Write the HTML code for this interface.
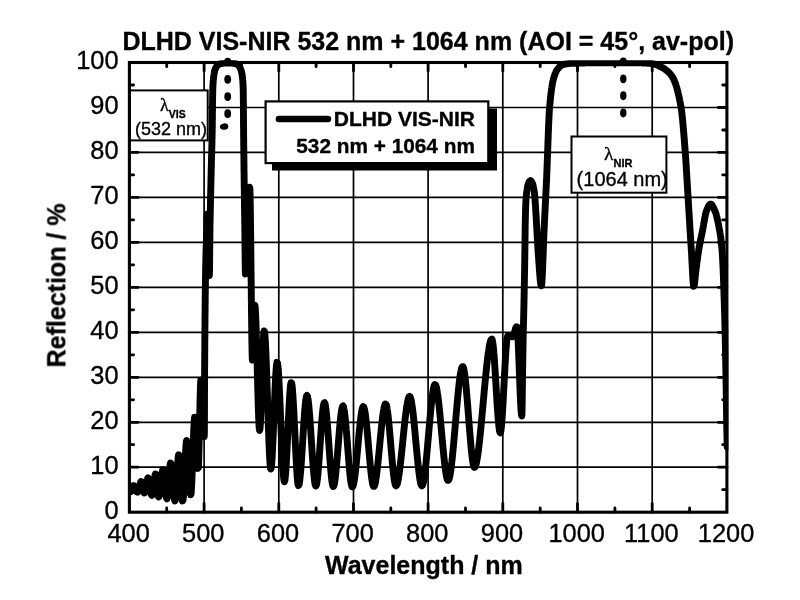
<!DOCTYPE html><html><head><meta charset="utf-8"><title>DLHD VIS-NIR</title>
<style>html,body{margin:0;padding:0;background:#fff;}body{width:800px;height:600px;overflow:hidden;font-family:"Liberation Sans",sans-serif;}svg{display:block;filter:blur(0.3px)}text{font-family:"Liberation Sans",sans-serif;fill:#000;stroke:#000;stroke-width:0.35px;stroke-linejoin:round}.b{font-weight:bold}.ser{font-family:"Liberation Serif",serif}</style></head><body>
<svg width="800" height="600" viewBox="0 0 800 600">
<rect width="800" height="600" fill="#fff"/>
<g stroke="#000" stroke-width="1.7" fill="none">
<line x1="204.1" y1="62.5" x2="204.1" y2="512.2"/>
<line x1="278.8" y1="62.5" x2="278.8" y2="512.2"/>
<line x1="353.5" y1="62.5" x2="353.5" y2="512.2"/>
<line x1="428.1" y1="62.5" x2="428.1" y2="512.2"/>
<line x1="502.8" y1="62.5" x2="502.8" y2="512.2"/>
<line x1="577.5" y1="62.5" x2="577.5" y2="512.2"/>
<line x1="652.2" y1="62.5" x2="652.2" y2="512.2"/>
<line x1="129.4" y1="467.2" x2="726.9" y2="467.2"/>
<line x1="129.4" y1="422.3" x2="726.9" y2="422.3"/>
<line x1="129.4" y1="377.3" x2="726.9" y2="377.3"/>
<line x1="129.4" y1="332.3" x2="726.9" y2="332.3"/>
<line x1="129.4" y1="287.4" x2="726.9" y2="287.4"/>
<line x1="129.4" y1="242.4" x2="726.9" y2="242.4"/>
<line x1="129.4" y1="197.4" x2="726.9" y2="197.4"/>
<line x1="129.4" y1="152.4" x2="726.9" y2="152.4"/>
<line x1="129.4" y1="107.5" x2="726.9" y2="107.5"/>
</g>
<g stroke="#000" stroke-width="2.8" stroke-linecap="round" fill="none">
<line x1="204.1" y1="62.5" x2="204.1" y2="71.1"/>
<line x1="204.1" y1="512.2" x2="204.1" y2="503.6"/>
<line x1="278.8" y1="62.5" x2="278.8" y2="71.1"/>
<line x1="278.8" y1="512.2" x2="278.8" y2="503.6"/>
<line x1="353.5" y1="62.5" x2="353.5" y2="71.1"/>
<line x1="353.5" y1="512.2" x2="353.5" y2="503.6"/>
<line x1="428.1" y1="62.5" x2="428.1" y2="71.1"/>
<line x1="428.1" y1="512.2" x2="428.1" y2="503.6"/>
<line x1="502.8" y1="62.5" x2="502.8" y2="71.1"/>
<line x1="502.8" y1="512.2" x2="502.8" y2="503.6"/>
<line x1="577.5" y1="62.5" x2="577.5" y2="71.1"/>
<line x1="577.5" y1="512.2" x2="577.5" y2="503.6"/>
<line x1="652.2" y1="62.5" x2="652.2" y2="71.1"/>
<line x1="652.2" y1="512.2" x2="652.2" y2="503.6"/>
<line x1="166.7" y1="62.5" x2="166.7" y2="66.7"/>
<line x1="166.7" y1="512.2" x2="166.7" y2="508.00000000000006"/>
<line x1="241.4" y1="62.5" x2="241.4" y2="66.7"/>
<line x1="241.4" y1="512.2" x2="241.4" y2="508.00000000000006"/>
<line x1="316.1" y1="62.5" x2="316.1" y2="66.7"/>
<line x1="316.1" y1="512.2" x2="316.1" y2="508.00000000000006"/>
<line x1="390.8" y1="62.5" x2="390.8" y2="66.7"/>
<line x1="390.8" y1="512.2" x2="390.8" y2="508.00000000000006"/>
<line x1="465.5" y1="62.5" x2="465.5" y2="66.7"/>
<line x1="465.5" y1="512.2" x2="465.5" y2="508.00000000000006"/>
<line x1="540.2" y1="62.5" x2="540.2" y2="66.7"/>
<line x1="540.2" y1="512.2" x2="540.2" y2="508.00000000000006"/>
<line x1="614.9" y1="62.5" x2="614.9" y2="66.7"/>
<line x1="614.9" y1="512.2" x2="614.9" y2="508.00000000000006"/>
<line x1="689.6" y1="62.5" x2="689.6" y2="66.7"/>
<line x1="689.6" y1="512.2" x2="689.6" y2="508.00000000000006"/>
<line x1="129.4" y1="467.2" x2="138.0" y2="467.2"/>
<line x1="726.9" y1="467.2" x2="718.3" y2="467.2"/>
<line x1="129.4" y1="422.3" x2="138.0" y2="422.3"/>
<line x1="726.9" y1="422.3" x2="718.3" y2="422.3"/>
<line x1="129.4" y1="377.3" x2="138.0" y2="377.3"/>
<line x1="726.9" y1="377.3" x2="718.3" y2="377.3"/>
<line x1="129.4" y1="332.3" x2="138.0" y2="332.3"/>
<line x1="726.9" y1="332.3" x2="718.3" y2="332.3"/>
<line x1="129.4" y1="287.4" x2="138.0" y2="287.4"/>
<line x1="726.9" y1="287.4" x2="718.3" y2="287.4"/>
<line x1="129.4" y1="242.4" x2="138.0" y2="242.4"/>
<line x1="726.9" y1="242.4" x2="718.3" y2="242.4"/>
<line x1="129.4" y1="197.4" x2="138.0" y2="197.4"/>
<line x1="726.9" y1="197.4" x2="718.3" y2="197.4"/>
<line x1="129.4" y1="152.4" x2="138.0" y2="152.4"/>
<line x1="726.9" y1="152.4" x2="718.3" y2="152.4"/>
<line x1="129.4" y1="107.5" x2="138.0" y2="107.5"/>
<line x1="726.9" y1="107.5" x2="718.3" y2="107.5"/>
<line x1="129.4" y1="489.7" x2="133.6" y2="489.7"/>
<line x1="726.9" y1="489.7" x2="722.6999999999999" y2="489.7"/>
<line x1="129.4" y1="444.7" x2="133.6" y2="444.7"/>
<line x1="726.9" y1="444.7" x2="722.6999999999999" y2="444.7"/>
<line x1="129.4" y1="399.8" x2="133.6" y2="399.8"/>
<line x1="726.9" y1="399.8" x2="722.6999999999999" y2="399.8"/>
<line x1="129.4" y1="354.8" x2="133.6" y2="354.8"/>
<line x1="726.9" y1="354.8" x2="722.6999999999999" y2="354.8"/>
<line x1="129.4" y1="309.8" x2="133.6" y2="309.8"/>
<line x1="726.9" y1="309.8" x2="722.6999999999999" y2="309.8"/>
<line x1="129.4" y1="264.9" x2="133.6" y2="264.9"/>
<line x1="726.9" y1="264.9" x2="722.6999999999999" y2="264.9"/>
<line x1="129.4" y1="219.9" x2="133.6" y2="219.9"/>
<line x1="726.9" y1="219.9" x2="722.6999999999999" y2="219.9"/>
<line x1="129.4" y1="174.9" x2="133.6" y2="174.9"/>
<line x1="726.9" y1="174.9" x2="722.6999999999999" y2="174.9"/>
<line x1="129.4" y1="130.0" x2="133.6" y2="130.0"/>
<line x1="726.9" y1="130.0" x2="722.6999999999999" y2="130.0"/>
<line x1="129.4" y1="85.0" x2="133.6" y2="85.0"/>
<line x1="726.9" y1="85.0" x2="722.6999999999999" y2="85.0"/>
</g>
<rect x="129.4" y="90.4" width="78.3" height="50" fill="#fff" stroke="#000" stroke-width="2"/>
<rect x="571.5" y="136.5" width="94.9" height="56.2" fill="#fff" stroke="#000" stroke-width="2"/>
<clipPath id="cp"><rect x="128" y="60.3" width="600.4" height="453.6"/></clipPath>
<path clip-path="url(#cp)" d="M129.4 489.5 L129.7 490.2 L129.9 490.8 L130.2 491.4 L130.8 491.7 L131.2 491.2 L131.5 490.6 L131.7 490.0 L132.0 489.3 L132.2 488.7 L132.4 488.1 L132.6 487.5 L132.8 486.9 L133.1 486.3 L133.4 485.7 L134.0 485.6 L134.4 486.0 L134.7 486.6 L135.0 487.1 L135.2 487.8 L135.5 488.4 L135.7 489.1 L136.0 489.8 L136.2 490.4 L136.5 491.0 L136.8 491.6 L137.1 492.1 L137.7 492.2 L138.1 491.7 L138.3 491.0 L138.5 490.4 L138.7 489.7 L138.9 489.1 L139.0 488.5 L139.2 487.8 L139.3 487.2 L139.5 486.5 L139.6 485.9 L139.8 485.2 L139.9 484.6 L140.1 484.0 L140.3 483.3 L140.5 482.7 L140.7 482.0 L141.1 481.5 L141.6 481.8 L141.9 482.5 L142.1 483.3 L142.2 484.0 L142.4 484.7 L142.5 485.5 L142.7 486.3 L142.8 487.2 L143.0 488.0 L143.1 488.8 L143.3 489.6 L143.4 490.4 L143.6 491.1 L143.7 491.7 L143.9 492.4 L144.2 493.0 L144.8 492.8 L145.0 492.1 L145.2 491.3 L145.4 490.7 L145.5 489.9 L145.7 489.1 L145.8 488.2 L145.9 487.6 L146.0 487.0 L146.1 486.4 L146.2 485.8 L146.3 485.1 L146.4 484.5 L146.5 483.9 L146.6 483.3 L146.7 482.7 L146.9 481.8 L147.0 481.0 L147.2 480.2 L147.3 479.6 L147.5 479.0 L147.7 478.3 L148.0 477.8 L148.5 478.1 L148.7 478.7 L148.9 479.5 L149.0 480.2 L149.2 481.0 L149.3 481.9 L149.4 482.5 L149.5 483.1 L149.6 483.8 L149.7 484.5 L149.8 485.2 L149.9 485.9 L150.0 486.6 L150.1 487.2 L150.2 487.9 L150.3 488.6 L150.4 489.3 L150.5 490.0 L150.6 490.6 L150.7 491.2 L150.9 492.1 L151.0 492.9 L151.2 493.6 L151.3 494.2 L151.5 494.9 L151.9 495.4 L152.3 494.9 L152.5 494.1 L152.6 493.4 L152.8 492.5 L152.9 491.8 L153.0 491.1 L153.1 490.4 L153.2 489.6 L153.3 488.8 L153.4 488.0 L153.5 487.2 L153.6 486.3 L153.7 485.4 L153.8 484.5 L153.9 483.7 L154.0 482.8 L154.1 481.9 L154.2 481.1 L154.3 480.3 L154.4 479.5 L154.5 478.7 L154.6 478.0 L154.7 477.3 L154.8 476.6 L154.9 476.0 L155.0 475.2 L155.2 474.6 L155.4 474.0 L155.9 474.3 L156.1 475.0 L156.2 475.6 L156.3 476.3 L156.4 477.0 L156.5 477.9 L156.6 478.8 L156.7 479.8 L156.8 480.8 L156.9 481.8 L157.0 482.9 L157.1 484.0 L157.2 485.1 L157.3 486.2 L157.4 487.3 L157.5 488.4 L157.6 489.5 L157.7 490.5 L157.8 491.5 L157.9 492.5 L158.0 493.3 L158.1 494.1 L158.2 494.9 L158.3 495.5 L158.4 496.3 L158.6 496.9 L159.1 496.6 L159.3 495.9 L159.5 495.2 L159.6 494.3 L159.7 493.7 L159.8 493.0 L159.9 492.3 L160.0 491.5 L160.1 490.7 L160.2 489.9 L160.3 489.0 L160.4 488.1 L160.5 487.2 L160.6 486.3 L160.7 485.3 L160.8 484.4 L160.9 483.4 L161.0 482.4 L161.1 481.5 L161.2 480.5 L161.3 479.6 L161.4 478.7 L161.5 477.7 L161.6 476.9 L161.7 476.0 L161.8 475.2 L161.9 474.4 L162.0 473.6 L162.1 472.9 L162.2 472.3 L162.3 471.7 L162.5 470.9 L162.6 470.2 L162.8 469.6 L163.4 469.7 L163.6 470.3 L163.7 471.2 L163.8 471.8 L163.9 472.6 L164.0 473.4 L164.1 474.3 L164.2 475.2 L164.3 476.2 L164.4 477.2 L164.5 478.3 L164.6 479.4 L164.7 480.5 L164.8 481.7 L164.9 482.8 L165.0 484.0 L165.1 485.2 L165.2 486.3 L165.3 487.5 L165.4 488.6 L165.5 489.7 L165.6 490.8 L165.7 491.8 L165.8 492.8 L165.9 493.7 L166.0 494.6 L166.1 495.4 L166.2 496.2 L166.3 496.8 L166.5 497.7 L166.6 498.3 L166.9 498.8 L167.2 498.1 L167.4 497.3 L167.5 496.7 L167.6 495.9 L167.7 495.0 L167.8 494.0 L167.9 492.9 L168.0 491.8 L168.0 491.2 L168.1 490.6 L168.1 489.9 L168.2 489.3 L168.2 488.6 L168.3 487.9 L168.3 487.3 L168.4 486.6 L168.4 485.9 L168.5 485.2 L168.5 484.5 L168.6 483.7 L168.6 483.0 L168.7 482.3 L168.7 481.6 L168.8 480.8 L168.8 480.1 L168.9 479.4 L168.9 478.7 L169.0 478.0 L169.0 477.2 L169.1 476.5 L169.1 475.8 L169.2 475.1 L169.2 474.4 L169.3 473.8 L169.3 473.1 L169.4 472.4 L169.4 471.8 L169.5 471.1 L169.5 470.5 L169.6 469.9 L169.7 468.8 L169.8 467.7 L169.9 466.7 L170.0 465.8 L170.1 465.0 L170.2 464.4 L170.3 463.6 L170.5 463.0 L171.0 463.6 L171.1 464.3 L171.3 465.2 L171.4 465.9 L171.5 466.6 L171.6 467.5 L171.7 468.4 L171.8 469.4 L171.9 470.4 L172.0 471.5 L172.1 472.6 L172.2 473.8 L172.2 474.4 L172.3 475.0 L172.3 475.6 L172.4 476.2 L172.4 476.8 L172.5 477.5 L172.5 478.1 L172.6 478.8 L172.6 479.4 L172.7 480.0 L172.7 480.7 L172.8 481.3 L172.8 482.0 L172.9 482.7 L172.9 483.3 L173.0 484.0 L173.0 484.6 L173.1 485.2 L173.1 485.9 L173.2 486.5 L173.2 487.2 L173.3 487.8 L173.3 488.4 L173.4 489.0 L173.4 489.6 L173.5 490.2 L173.6 491.4 L173.7 492.5 L173.8 493.6 L173.9 494.6 L174.0 495.6 L174.1 496.5 L174.2 497.4 L174.3 498.1 L174.4 498.8 L174.5 499.5 L174.6 500.2 L174.8 500.9 L175.3 500.2 L175.4 499.6 L175.5 498.8 L175.6 497.9 L175.7 496.8 L175.8 495.6 L175.9 495.0 L175.9 494.3 L176.0 493.6 L176.0 492.9 L176.1 492.1 L176.1 491.4 L176.2 490.6 L176.2 489.8 L176.3 489.0 L176.3 488.1 L176.4 487.3 L176.4 486.4 L176.5 485.5 L176.5 484.6 L176.6 483.7 L176.6 482.8 L176.7 481.9 L176.7 481.0 L176.8 480.0 L176.8 479.1 L176.9 478.2 L176.9 477.2 L177.0 476.3 L177.0 475.4 L177.1 474.4 L177.1 473.5 L177.2 472.6 L177.2 471.7 L177.3 470.8 L177.3 469.9 L177.4 469.0 L177.4 468.1 L177.5 467.3 L177.5 466.4 L177.6 465.6 L177.6 464.8 L177.7 464.0 L177.7 463.3 L177.8 462.5 L177.8 461.8 L177.9 461.1 L177.9 460.4 L178.0 459.8 L178.0 459.2 L178.1 458.0 L178.2 457.0 L178.3 456.2 L178.4 455.4 L178.6 454.7 L179.1 455.1 L179.2 456.0 L179.3 456.8 L179.4 457.7 L179.5 458.7 L179.6 459.9 L179.7 460.5 L179.7 461.1 L179.8 461.8 L179.8 462.5 L179.9 463.2 L179.9 463.9 L180.0 464.7 L180.0 465.4 L180.1 466.2 L180.1 467.0 L180.2 467.8 L180.2 468.6 L180.3 469.5 L180.3 470.3 L180.4 471.2 L180.4 472.0 L180.5 472.9 L180.5 473.8 L180.6 474.6 L180.6 475.5 L180.7 476.4 L180.7 477.3 L180.8 478.2 L180.8 479.1 L180.9 480.0 L180.9 480.9 L181.0 481.7 L181.0 482.6 L181.1 483.5 L181.1 484.3 L181.2 485.2 L181.2 486.0 L181.3 486.9 L181.3 487.7 L181.4 488.5 L181.4 489.3 L181.5 490.1 L181.5 490.8 L181.6 491.6 L181.6 492.3 L181.7 493.0 L181.7 493.7 L181.8 494.4 L181.8 495.0 L181.9 495.6 L182.0 496.8 L182.1 497.8 L182.2 498.7 L182.3 499.5 L182.4 500.2 L182.5 500.9 L183.0 500.2 L183.1 499.5 L183.2 498.6 L183.3 497.5 L183.4 496.9 L183.4 496.2 L183.5 495.6 L183.5 494.9 L183.6 494.1 L183.6 493.3 L183.7 492.5 L183.7 491.7 L183.8 490.8 L183.8 489.9 L183.9 489.0 L183.9 488.0 L184.0 487.1 L184.0 486.1 L184.1 485.0 L184.1 484.0 L184.2 483.0 L184.2 481.9 L184.3 480.8 L184.3 479.7 L184.4 478.6 L184.4 477.5 L184.5 476.4 L184.5 475.3 L184.6 474.1 L184.6 473.0 L184.7 471.8 L184.7 470.7 L184.8 469.6 L184.8 468.4 L184.9 467.3 L184.9 466.1 L185.0 465.0 L185.0 463.9 L185.1 462.8 L185.1 461.7 L185.2 460.6 L185.2 459.5 L185.3 458.4 L185.3 457.4 L185.4 456.4 L185.4 455.3 L185.5 454.3 L185.5 453.4 L185.6 452.4 L185.6 451.5 L185.7 450.6 L185.7 449.7 L185.8 448.9 L185.8 448.1 L185.9 447.3 L185.9 446.5 L186.0 445.8 L186.0 445.2 L186.1 444.5 L186.1 443.9 L186.2 442.8 L186.3 441.9 L186.4 441.2 L186.6 440.5 L187.0 441.1 L187.1 441.7 L187.2 442.6 L187.3 443.5 L187.4 444.6 L187.5 445.3 L187.5 445.9 L187.6 446.6 L187.6 447.3 L187.7 448.0 L187.7 448.8 L187.8 449.5 L187.8 450.4 L187.9 451.2 L187.9 452.0 L188.0 452.9 L188.0 453.8 L188.1 454.7 L188.1 455.6 L188.2 456.6 L188.2 457.5 L188.3 458.5 L188.3 459.5 L188.4 460.5 L188.4 461.5 L188.5 462.5 L188.5 463.5 L188.6 464.5 L188.6 465.5 L188.7 466.6 L188.7 467.6 L188.8 468.6 L188.8 469.7 L188.9 470.7 L188.9 471.7 L189.0 472.7 L189.0 473.7 L189.1 474.7 L189.1 475.7 L189.2 476.7 L189.2 477.7 L189.3 478.6 L189.3 479.6 L189.4 480.5 L189.4 481.4 L189.5 482.3 L189.5 483.2 L189.6 484.0 L189.6 484.8 L189.7 485.7 L189.7 486.4 L189.8 487.2 L189.8 487.9 L189.9 488.6 L189.9 489.3 L190.0 489.9 L190.0 490.6 L190.1 491.7 L190.2 492.6 L190.3 493.5 L190.4 494.1 L190.6 494.8 L191.0 494.2 L191.1 493.4 L191.2 492.4 L191.3 491.2 L191.3 490.5 L191.4 489.7 L191.4 488.9 L191.5 488.1 L191.5 487.2 L191.6 486.3 L191.6 485.3 L191.7 484.3 L191.7 483.3 L191.8 482.2 L191.8 481.1 L191.9 480.0 L191.9 478.8 L192.0 477.6 L192.0 476.4 L192.1 475.1 L192.1 473.8 L192.2 472.5 L192.2 471.2 L192.3 469.9 L192.3 468.5 L192.4 467.2 L192.4 465.8 L192.5 464.4 L192.5 463.0 L192.6 461.6 L192.6 460.1 L192.7 458.7 L192.7 457.3 L192.8 455.8 L192.8 454.4 L192.9 453.0 L192.9 451.6 L193.0 450.1 L193.0 448.7 L193.1 447.3 L193.1 445.9 L193.2 444.5 L193.2 443.2 L193.3 441.8 L193.3 440.5 L193.4 439.2 L193.4 437.9 L193.5 436.6 L193.5 435.3 L193.6 434.1 L193.6 432.9 L193.7 431.7 L193.7 430.6 L193.8 429.5 L193.8 428.4 L193.9 427.4 L193.9 426.4 L194.0 425.4 L194.0 424.5 L194.1 423.6 L194.1 422.8 L194.2 422.0 L194.2 421.2 L194.3 420.5 L194.3 419.9 L194.4 418.8 L194.5 417.9 L194.6 417.2 L195.1 417.9 L195.2 418.8 L195.3 419.9 L195.4 420.6 L195.4 421.3 L195.5 422.0 L195.5 422.8 L195.6 423.6 L195.6 424.4 L195.7 425.3 L195.7 426.2 L195.8 427.2 L195.8 428.2 L195.9 429.2 L195.9 430.3 L196.0 431.3 L196.0 432.4 L196.1 433.5 L196.1 434.7 L196.2 435.8 L196.2 437.0 L196.3 438.1 L196.3 439.3 L196.4 440.5 L196.4 441.7 L196.5 442.9 L196.5 444.0 L196.6 445.2 L196.6 446.4 L196.7 447.6 L196.7 448.7 L196.8 449.9 L196.8 451.0 L196.9 452.2 L196.9 453.3 L197.0 454.4 L197.0 455.4 L197.1 456.5 L197.1 457.5 L197.2 458.5 L197.2 459.5 L197.3 460.4 L197.3 461.3 L197.4 462.1 L197.4 462.9 L197.5 463.7 L197.5 464.4 L197.6 465.1 L197.6 465.8 L197.7 466.9 L197.8 467.8 L197.9 468.4 L198.3 467.7 L198.4 467.0 L198.4 466.2 L198.5 465.2 L198.5 464.1 L198.6 462.8 L198.6 461.5 L198.7 460.0 L198.7 458.5 L198.8 456.8 L198.8 455.1 L198.9 453.3 L198.9 451.4 L199.0 449.4 L199.0 447.3 L199.1 445.2 L199.1 443.1 L199.2 440.8 L199.2 438.6 L199.3 436.3 L199.3 434.0 L199.4 431.6 L199.4 429.3 L199.5 426.9 L199.5 424.5 L199.6 422.1 L199.6 419.7 L199.7 417.4 L199.7 415.0 L199.8 412.7 L199.8 410.4 L199.9 408.2 L199.9 405.9 L200.0 403.8 L200.0 401.7 L200.1 399.6 L200.1 397.6 L200.2 395.7 L200.2 393.9 L200.3 392.2 L200.3 390.5 L200.4 389.0 L200.4 387.5 L200.5 386.2 L200.5 384.9 L200.6 383.8 L200.6 382.8 L200.7 382.0 L200.7 381.3 L200.8 380.3 L201.2 380.9 L201.3 381.7 L201.4 382.7 L201.4 383.3 L201.5 384.0 L201.5 384.7 L201.6 385.4 L201.6 386.2 L201.7 387.1 L201.7 387.9 L201.8 388.9 L201.8 389.8 L201.9 390.8 L201.9 391.8 L202.0 392.9 L202.0 394.0 L202.1 395.1 L202.1 396.2 L202.2 397.4 L202.2 398.5 L202.3 399.7 L202.3 400.9 L202.4 402.1 L202.4 403.4 L202.5 404.6 L202.5 405.9 L202.6 407.1 L202.6 408.4 L202.7 409.6 L202.7 410.8 L202.8 412.1 L202.8 413.3 L202.9 414.6 L202.9 415.8 L203.0 417.0 L203.0 418.2 L203.1 419.3 L203.1 420.5 L203.2 421.6 L203.2 422.7 L203.3 423.8 L203.3 424.9 L203.4 425.9 L203.4 426.9 L203.5 427.8 L203.5 428.8 L203.6 429.6 L203.6 430.5 L203.7 431.3 L203.7 432.0 L203.8 432.7 L203.8 433.4 L203.9 434.0 L204.0 435.0 L204.1 435.8 L204.2 436.6 L204.4 432.8 L204.4 422.8 L204.5 409.1 L204.5 394.1 L204.6 380.2 L204.6 370.0 L204.7 362.5 L204.7 355.3 L204.8 348.3 L204.8 341.6 L204.9 335.2 L204.9 329.0 L205.0 323.0 L205.0 317.4 L205.1 312.0 L205.1 306.8 L205.2 301.9 L205.2 297.3 L205.3 292.9 L205.3 288.8 L205.4 285.0 L205.4 281.4 L205.5 278.1 L205.5 275.0 L205.6 272.2 L205.6 269.5 L205.7 266.9 L205.7 264.5 L205.8 262.3 L205.8 260.1 L205.9 258.0 L205.9 256.1 L206.0 254.2 L206.0 252.3 L206.1 250.6 L206.1 248.8 L206.2 247.1 L206.2 245.4 L206.3 243.7 L206.3 242.0 L206.4 240.3 L206.4 238.6 L206.5 236.8 L206.5 235.0 L206.6 233.0 L206.6 230.9 L206.7 228.6 L206.7 226.3 L206.8 223.9 L206.8 221.7 L206.9 219.6 L206.9 217.8 L207.0 216.2 L207.0 215.0 L207.1 214.3 L207.3 215.4 L207.4 216.2 L207.4 217.1 L207.5 218.2 L207.5 219.4 L207.6 220.7 L207.6 222.1 L207.7 223.7 L207.7 225.3 L207.8 227.0 L207.8 228.8 L207.9 230.6 L207.9 232.6 L208.0 234.5 L208.0 236.6 L208.1 238.6 L208.1 240.7 L208.2 242.8 L208.2 244.9 L208.3 247.0 L208.3 249.1 L208.4 251.2 L208.4 253.2 L208.5 255.3 L208.5 257.2 L208.6 259.2 L208.6 261.0 L208.7 262.8 L208.7 264.5 L208.8 266.1 L208.8 267.7 L208.9 269.1 L208.9 270.4 L209.0 271.6 L209.0 272.7 L209.1 273.6 L209.1 274.4 L209.2 275.0 L209.3 275.7 L209.4 273.7 L209.5 271.3 L209.5 268.1 L209.6 264.4 L209.6 260.1 L209.7 255.5 L209.7 250.7 L209.8 245.9 L209.8 241.1 L209.9 236.4 L209.9 232.1 L210.0 228.3 L210.0 225.0 L210.1 222.1 L210.1 219.4 L210.2 216.8 L210.2 214.2 L210.3 211.8 L210.3 209.4 L210.4 207.0 L210.4 204.7 L210.5 202.3 L210.5 200.0 L210.6 197.7 L210.6 195.3 L210.7 193.0 L210.7 190.8 L210.8 188.5 L210.8 186.3 L210.9 184.0 L210.9 181.8 L211.0 179.7 L211.0 177.5 L211.1 175.4 L211.1 173.3 L211.2 171.2 L211.2 169.1 L211.3 167.0 L211.3 165.0 L211.4 163.0 L211.4 161.1 L211.5 159.3 L211.5 157.6 L211.6 155.9 L211.6 154.2 L211.7 152.5 L211.7 150.8 L211.8 149.1 L211.8 147.3 L211.9 145.5 L211.9 143.6 L212.0 141.6 L212.0 139.6 L212.1 137.3 L212.1 135.0 L212.2 132.3 L212.2 129.1 L212.3 125.6 L212.3 121.7 L212.4 117.6 L212.4 113.5 L212.5 109.3 L212.5 105.2 L212.6 101.3 L212.6 97.7 L212.7 94.5 L212.7 91.7 L212.8 89.5 L212.8 88.0 L212.9 86.9 L212.9 85.8 L213.0 84.9 L213.0 84.0 L213.1 83.1 L213.1 82.4 L213.2 81.7 L213.2 81.0 L213.3 80.4 L213.4 79.3 L213.5 78.3 L213.6 77.4 L213.7 76.6 L213.8 75.8 L213.9 75.1 L214.0 74.5 L214.1 73.8 L214.2 73.2 L214.3 72.4 L214.5 71.7 L214.6 71.0 L214.8 70.3 L215.0 69.7 L215.3 69.1 L215.5 68.4 L215.8 67.9 L216.1 67.3 L216.4 66.7 L216.8 66.2 L217.2 65.7 L217.6 65.3 L218.1 64.9 L218.6 64.5 L219.1 64.2 L219.7 63.9 L220.3 63.7 L220.9 63.5 L221.5 63.5 L222.1 63.4 L222.7 63.3 L223.3 63.2 L223.9 63.2 L224.5 63.1 L225.1 63.1 L225.7 63.1 L226.3 63.0 L226.9 63.0 L227.5 63.0 L228.1 63.0 L228.7 63.0 L229.3 63.0 L229.9 63.0 L230.5 63.1 L231.1 63.1 L231.7 63.1 L232.3 63.2 L232.9 63.3 L233.5 63.3 L234.1 63.4 L234.7 63.5 L235.3 63.6 L235.9 63.7 L236.5 63.9 L237.0 64.3 L237.5 64.6 L238.0 65.0 L238.5 65.5 L238.9 65.9 L239.3 66.4 L239.7 67.0 L240.0 67.5 L240.3 68.1 L240.5 68.7 L240.8 69.3 L241.0 70.0 L241.2 70.6 L241.4 71.3 L241.6 72.0 L241.7 72.7 L241.9 73.4 L242.0 74.3 L242.1 74.9 L242.2 75.6 L242.3 76.4 L242.4 77.2 L242.5 78.0 L242.6 78.9 L242.7 80.0 L242.8 80.6 L242.8 81.2 L242.9 82.0 L242.9 82.8 L243.0 83.7 L243.0 84.7 L243.1 85.9 L243.1 87.1 L243.2 88.5 L243.2 90.0 L243.3 92.6 L243.3 97.0 L243.4 102.7 L243.4 109.3 L243.5 116.3 L243.5 123.2 L243.6 129.6 L243.6 135.0 L243.7 139.7 L243.7 144.3 L243.8 148.8 L243.8 153.2 L243.9 157.5 L243.9 161.7 L244.0 165.8 L244.0 169.8 L244.1 173.8 L244.1 177.7 L244.2 181.6 L244.2 185.4 L244.3 189.1 L244.3 192.9 L244.4 196.6 L244.4 200.3 L244.5 204.0 L244.5 207.6 L244.6 211.3 L244.6 215.0 L244.7 218.7 L244.7 222.4 L244.8 226.2 L244.8 230.0 L244.9 234.1 L244.9 238.6 L245.0 243.4 L245.0 248.4 L245.1 253.3 L245.1 258.1 L245.2 262.5 L245.2 266.5 L245.3 269.9 L245.3 272.5 L245.4 274.1 L245.7 273.5 L245.8 272.6 L245.9 271.4 L246.0 270.8 L246.0 270.1 L246.1 269.3 L246.1 268.5 L246.2 267.6 L246.2 266.7 L246.3 265.8 L246.3 264.8 L246.4 263.7 L246.4 262.7 L246.5 261.6 L246.5 260.4 L246.6 259.2 L246.6 258.0 L246.7 256.8 L246.7 255.5 L246.8 254.2 L246.8 252.9 L246.9 251.5 L246.9 250.1 L247.0 248.7 L247.0 247.3 L247.1 245.9 L247.1 244.4 L247.2 242.9 L247.2 241.5 L247.3 240.0 L247.3 238.5 L247.4 237.0 L247.4 235.4 L247.5 233.9 L247.5 232.4 L247.6 230.8 L247.6 229.3 L247.7 227.8 L247.7 226.3 L247.8 224.7 L247.8 223.2 L247.9 221.7 L247.9 220.2 L248.0 218.8 L248.0 217.3 L248.1 215.8 L248.1 214.4 L248.2 213.0 L248.2 211.6 L248.3 210.2 L248.3 208.8 L248.4 207.5 L248.4 206.2 L248.5 204.9 L248.5 203.7 L248.6 202.5 L248.6 201.3 L248.7 200.1 L248.7 199.0 L248.8 198.0 L248.8 196.9 L248.9 195.9 L248.9 195.0 L249.0 194.1 L249.0 193.2 L249.1 192.4 L249.1 191.6 L249.2 190.9 L249.2 190.3 L249.3 189.7 L249.4 188.6 L249.5 187.9 L249.6 187.1 L249.9 188.5 L249.9 189.7 L250.0 191.2 L250.0 192.9 L250.1 195.0 L250.1 197.3 L250.2 199.8 L250.2 202.6 L250.3 205.6 L250.3 208.8 L250.4 212.3 L250.4 215.9 L250.5 219.6 L250.5 223.6 L250.6 227.6 L250.6 231.9 L250.7 236.2 L250.7 240.6 L250.8 245.1 L250.8 249.7 L250.9 254.4 L250.9 259.1 L251.0 263.9 L251.0 268.7 L251.1 273.5 L251.1 278.3 L251.2 283.1 L251.2 287.9 L251.3 292.6 L251.3 297.3 L251.4 301.9 L251.4 306.4 L251.5 310.8 L251.5 315.1 L251.6 319.4 L251.6 323.4 L251.7 327.4 L251.7 331.1 L251.8 334.7 L251.8 338.2 L251.9 341.4 L251.9 344.4 L252.0 347.2 L252.0 349.7 L252.1 352.0 L252.1 354.1 L252.2 355.8 L252.2 357.3 L252.3 358.5 L252.3 359.3 L252.4 360.0 L252.6 359.4 L252.7 358.3 L252.7 357.6 L252.8 356.8 L252.8 355.9 L252.9 354.9 L252.9 353.9 L253.0 352.7 L253.0 351.4 L253.1 350.1 L253.1 348.7 L253.2 347.3 L253.2 345.8 L253.3 344.2 L253.3 342.7 L253.4 341.0 L253.4 339.4 L253.5 337.7 L253.5 336.0 L253.6 334.3 L253.6 332.6 L253.7 330.9 L253.7 329.2 L253.8 327.5 L253.8 325.8 L253.9 324.2 L253.9 322.5 L254.0 321.0 L254.0 319.4 L254.1 317.9 L254.1 316.5 L254.2 315.1 L254.2 313.8 L254.3 312.5 L254.3 311.3 L254.4 310.3 L254.4 309.3 L254.5 308.4 L254.5 307.6 L254.6 306.9 L254.7 305.8 L254.8 305.2 L255.0 305.8 L255.1 306.6 L255.2 307.7 L255.3 308.3 L255.3 309.0 L255.4 309.8 L255.4 310.6 L255.5 311.5 L255.5 312.4 L255.6 313.4 L255.6 314.5 L255.7 315.6 L255.7 316.8 L255.8 318.0 L255.8 319.2 L255.9 320.6 L255.9 321.9 L256.0 323.3 L256.0 324.8 L256.1 326.2 L256.1 327.8 L256.2 329.3 L256.2 330.9 L256.3 332.6 L256.3 334.2 L256.4 335.9 L256.4 337.7 L256.5 339.4 L256.5 341.2 L256.6 343.0 L256.6 344.8 L256.7 346.7 L256.7 348.5 L256.8 350.4 L256.8 352.3 L256.9 354.2 L256.9 356.1 L257.0 358.1 L257.0 360.0 L257.1 361.9 L257.1 363.9 L257.2 365.8 L257.2 367.8 L257.3 369.8 L257.3 371.7 L257.4 373.7 L257.4 375.6 L257.5 377.5 L257.5 379.5 L257.6 381.4 L257.6 383.3 L257.7 385.2 L257.7 387.1 L257.8 388.9 L257.8 390.8 L257.9 392.6 L257.9 394.4 L258.0 396.2 L258.0 397.9 L258.1 399.7 L258.1 401.4 L258.2 403.0 L258.2 404.7 L258.3 406.3 L258.3 407.8 L258.4 409.4 L258.4 410.8 L258.5 412.3 L258.5 413.7 L258.6 415.0 L258.6 416.4 L258.7 417.6 L258.7 418.8 L258.8 420.0 L258.8 421.1 L258.9 422.2 L258.9 423.2 L259.0 424.1 L259.0 425.0 L259.1 425.8 L259.1 426.6 L259.2 427.3 L259.2 427.9 L259.3 429.0 L259.4 429.8 L259.6 430.4 L259.9 429.5 L260.0 428.8 L260.1 427.7 L260.1 427.1 L260.2 426.5 L260.2 425.8 L260.3 425.0 L260.3 424.2 L260.4 423.3 L260.4 422.4 L260.5 421.5 L260.5 420.5 L260.6 419.4 L260.6 418.3 L260.7 417.2 L260.7 416.0 L260.8 414.8 L260.8 413.6 L260.9 412.3 L260.9 411.0 L261.0 409.7 L261.0 408.3 L261.1 406.9 L261.1 405.5 L261.2 404.1 L261.2 402.6 L261.3 401.1 L261.3 399.6 L261.4 398.1 L261.4 396.6 L261.5 395.0 L261.5 393.5 L261.6 391.9 L261.6 390.3 L261.7 388.7 L261.7 387.1 L261.8 385.5 L261.8 383.8 L261.9 382.2 L261.9 380.6 L262.0 379.0 L262.0 377.4 L262.1 375.7 L262.1 374.1 L262.2 372.5 L262.2 370.9 L262.3 369.3 L262.3 367.7 L262.4 366.2 L262.4 364.6 L262.5 363.1 L262.5 361.6 L262.6 360.1 L262.6 358.6 L262.7 357.1 L262.7 355.7 L262.8 354.3 L262.8 352.9 L262.9 351.5 L262.9 350.2 L263.0 348.9 L263.0 347.6 L263.1 346.4 L263.1 345.2 L263.2 344.0 L263.2 342.9 L263.3 341.8 L263.3 340.7 L263.4 339.7 L263.4 338.8 L263.5 337.9 L263.5 337.0 L263.6 336.2 L263.6 335.4 L263.7 334.7 L263.7 334.1 L263.8 333.5 L263.9 332.4 L264.0 331.7 L264.1 330.9 L264.5 331.6 L264.6 332.3 L264.7 333.1 L264.8 334.0 L264.9 335.1 L265.0 335.8 L265.0 336.4 L265.1 337.1 L265.1 337.8 L265.2 338.6 L265.2 339.4 L265.3 340.2 L265.3 341.1 L265.4 341.9 L265.4 342.9 L265.5 343.8 L265.5 344.8 L265.6 345.8 L265.6 346.8 L265.7 347.9 L265.7 349.0 L265.8 350.1 L265.8 351.3 L265.9 352.4 L265.9 353.6 L266.0 354.8 L266.0 356.1 L266.1 357.3 L266.1 358.6 L266.2 359.9 L266.2 361.2 L266.3 362.6 L266.3 363.9 L266.4 365.3 L266.4 366.7 L266.5 368.1 L266.5 369.5 L266.6 370.9 L266.6 372.4 L266.7 373.9 L266.7 375.3 L266.8 376.8 L266.8 378.3 L266.9 379.8 L266.9 381.3 L267.0 382.9 L267.0 384.4 L267.1 385.9 L267.1 387.5 L267.2 389.0 L267.2 390.6 L267.3 392.2 L267.3 393.7 L267.4 395.3 L267.4 396.9 L267.5 398.4 L267.5 400.0 L267.6 401.6 L267.6 403.1 L267.7 404.7 L267.7 406.3 L267.8 407.8 L267.8 409.4 L267.9 411.0 L267.9 412.5 L268.0 414.1 L268.0 415.6 L268.1 417.1 L268.1 418.7 L268.2 420.2 L268.2 421.7 L268.3 423.2 L268.3 424.7 L268.4 426.1 L268.4 427.6 L268.5 429.1 L268.5 430.5 L268.6 431.9 L268.6 433.3 L268.7 434.7 L268.7 436.1 L268.8 437.4 L268.8 438.8 L268.9 440.1 L268.9 441.4 L269.0 442.7 L269.0 443.9 L269.1 445.2 L269.1 446.4 L269.2 447.6 L269.2 448.7 L269.3 449.9 L269.3 451.0 L269.4 452.1 L269.4 453.2 L269.5 454.2 L269.5 455.2 L269.6 456.2 L269.6 457.1 L269.7 458.1 L269.7 458.9 L269.8 459.8 L269.8 460.6 L269.9 461.4 L269.9 462.2 L270.0 462.9 L270.0 463.6 L270.1 464.2 L270.1 464.9 L270.2 466.0 L270.3 466.9 L270.4 467.7 L270.5 468.4 L270.7 469.0 L271.1 468.5 L271.3 467.6 L271.4 466.9 L271.5 466.0 L271.6 465.0 L271.7 463.9 L271.7 463.3 L271.8 462.6 L271.8 462.0 L271.9 461.3 L271.9 460.5 L272.0 459.8 L272.0 459.0 L272.1 458.2 L272.1 457.4 L272.2 456.5 L272.2 455.7 L272.3 454.8 L272.3 453.9 L272.4 452.9 L272.4 452.0 L272.5 451.0 L272.5 450.0 L272.6 449.0 L272.6 447.9 L272.7 446.9 L272.7 445.8 L272.8 444.7 L272.8 443.6 L272.9 442.5 L272.9 441.4 L273.0 440.3 L273.0 439.1 L273.1 437.9 L273.1 436.8 L273.2 435.6 L273.2 434.4 L273.3 433.2 L273.3 432.0 L273.4 430.7 L273.4 429.5 L273.5 428.3 L273.5 427.0 L273.6 425.8 L273.6 424.5 L273.7 423.2 L273.7 422.0 L273.8 420.7 L273.8 419.4 L273.9 418.2 L273.9 416.9 L274.0 415.6 L274.0 414.3 L274.1 413.0 L274.1 411.8 L274.2 410.5 L274.2 409.2 L274.3 408.0 L274.3 406.7 L274.4 405.4 L274.4 404.2 L274.5 402.9 L274.5 401.7 L274.6 400.5 L274.6 399.2 L274.7 398.0 L274.7 396.8 L274.8 395.6 L274.8 394.4 L274.9 393.3 L274.9 392.1 L275.0 390.9 L275.0 389.8 L275.1 388.7 L275.1 387.6 L275.2 386.5 L275.2 385.4 L275.3 384.3 L275.3 383.3 L275.4 382.2 L275.4 381.2 L275.5 380.2 L275.5 379.2 L275.6 378.3 L275.6 377.3 L275.7 376.4 L275.7 375.5 L275.8 374.7 L275.8 373.8 L275.9 373.0 L275.9 372.2 L276.0 371.4 L276.0 370.7 L276.1 369.9 L276.1 369.2 L276.2 368.6 L276.2 367.9 L276.3 367.3 L276.4 366.2 L276.5 365.2 L276.6 364.3 L276.7 363.6 L276.8 363.0 L276.9 362.3 L277.5 362.8 L277.6 363.6 L277.7 364.3 L277.8 365.1 L277.9 366.0 L278.0 367.0 L278.1 368.1 L278.2 369.3 L278.3 370.0 L278.3 370.6 L278.4 371.3 L278.4 372.0 L278.5 372.8 L278.5 373.5 L278.6 374.3 L278.6 375.1 L278.7 375.9 L278.7 376.7 L278.8 377.6 L278.8 378.4 L278.9 379.3 L278.9 380.2 L279.0 381.2 L279.0 382.1 L279.1 383.0 L279.1 384.0 L279.2 385.0 L279.2 386.0 L279.3 387.0 L279.3 388.0 L279.4 389.1 L279.4 390.1 L279.5 391.2 L279.5 392.3 L279.6 393.4 L279.6 394.5 L279.7 395.6 L279.7 396.7 L279.8 397.8 L279.8 399.0 L279.9 400.1 L279.9 401.3 L280.0 402.5 L280.0 403.6 L280.1 404.8 L280.1 406.0 L280.2 407.2 L280.2 408.4 L280.3 409.6 L280.3 410.8 L280.4 412.0 L280.4 413.2 L280.5 414.4 L280.5 415.7 L280.6 416.9 L280.6 418.1 L280.7 419.3 L280.7 420.6 L280.8 421.8 L280.8 423.0 L280.9 424.3 L280.9 425.5 L281.0 426.7 L281.0 427.9 L281.1 429.2 L281.1 430.4 L281.2 431.6 L281.2 432.8 L281.3 434.0 L281.3 435.2 L281.4 436.4 L281.4 437.6 L281.5 438.8 L281.5 440.0 L281.6 441.1 L281.6 442.3 L281.7 443.5 L281.7 444.6 L281.8 445.8 L281.8 446.9 L281.9 448.0 L281.9 449.1 L282.0 450.2 L282.0 451.3 L282.1 452.4 L282.1 453.5 L282.2 454.5 L282.2 455.6 L282.3 456.6 L282.3 457.6 L282.4 458.6 L282.4 459.6 L282.5 460.6 L282.5 461.5 L282.6 462.4 L282.6 463.4 L282.7 464.3 L282.7 465.2 L282.8 466.0 L282.8 466.9 L282.9 467.7 L282.9 468.5 L283.0 469.3 L283.0 470.1 L283.1 470.8 L283.1 471.6 L283.2 472.3 L283.2 473.0 L283.3 473.6 L283.3 474.3 L283.4 474.9 L283.5 476.1 L283.6 477.1 L283.7 478.1 L283.8 478.9 L283.9 479.7 L284.0 480.3 L284.1 481.0 L284.4 481.6 L284.7 481.0 L284.9 480.4 L285.0 479.4 L285.1 478.7 L285.2 477.9 L285.3 476.9 L285.4 475.9 L285.5 474.7 L285.6 473.5 L285.7 472.9 L285.7 472.2 L285.8 471.5 L285.8 470.9 L285.9 470.1 L285.9 469.4 L286.0 468.6 L286.0 467.9 L286.1 467.1 L286.1 466.3 L286.2 465.5 L286.2 464.6 L286.3 463.8 L286.3 462.9 L286.4 462.0 L286.4 461.1 L286.5 460.2 L286.5 459.3 L286.6 458.4 L286.6 457.5 L286.7 456.5 L286.7 455.5 L286.8 454.6 L286.8 453.6 L286.9 452.6 L286.9 451.6 L287.0 450.6 L287.0 449.5 L287.1 448.5 L287.1 447.5 L287.2 446.4 L287.2 445.4 L287.3 444.3 L287.3 443.3 L287.4 442.2 L287.4 441.1 L287.5 440.1 L287.5 439.0 L287.6 437.9 L287.6 436.8 L287.7 435.8 L287.7 434.7 L287.8 433.6 L287.8 432.5 L287.9 431.4 L287.9 430.3 L288.0 429.2 L288.0 428.1 L288.1 427.1 L288.1 426.0 L288.2 424.9 L288.2 423.8 L288.3 422.8 L288.3 421.7 L288.4 420.6 L288.4 419.6 L288.5 418.5 L288.5 417.5 L288.6 416.4 L288.6 415.4 L288.7 414.4 L288.7 413.3 L288.8 412.3 L288.8 411.3 L288.9 410.3 L288.9 409.3 L289.0 408.4 L289.0 407.4 L289.1 406.4 L289.1 405.5 L289.2 404.6 L289.2 403.7 L289.3 402.8 L289.3 401.9 L289.4 401.0 L289.4 400.1 L289.5 399.3 L289.5 398.4 L289.6 397.6 L289.6 396.8 L289.7 396.0 L289.7 395.3 L289.8 394.5 L289.8 393.8 L289.9 393.0 L289.9 392.4 L290.0 391.7 L290.0 391.0 L290.1 390.4 L290.1 389.8 L290.2 388.6 L290.3 387.5 L290.4 386.5 L290.5 385.6 L290.6 384.8 L290.7 384.1 L290.9 383.3 L291.0 382.7 L291.6 383.0 L291.8 383.7 L291.9 384.3 L292.0 385.0 L292.1 385.8 L292.2 386.7 L292.3 387.7 L292.4 388.7 L292.5 389.9 L292.5 390.5 L292.6 391.1 L292.6 391.7 L292.7 392.4 L292.7 393.1 L292.8 393.7 L292.8 394.5 L292.9 395.2 L292.9 395.9 L293.0 396.7 L293.0 397.5 L293.1 398.3 L293.1 399.1 L293.2 399.9 L293.2 400.7 L293.3 401.6 L293.3 402.4 L293.4 403.3 L293.4 404.2 L293.5 405.1 L293.5 406.0 L293.6 406.9 L293.6 407.8 L293.7 408.8 L293.7 409.7 L293.8 410.7 L293.8 411.7 L293.9 412.7 L293.9 413.6 L294.0 414.6 L294.0 415.6 L294.1 416.7 L294.1 417.7 L294.2 418.7 L294.2 419.7 L294.3 420.8 L294.3 421.8 L294.4 422.8 L294.4 423.9 L294.5 424.9 L294.5 426.0 L294.6 427.1 L294.6 428.1 L294.7 429.2 L294.7 430.3 L294.8 431.3 L294.8 432.4 L294.9 433.5 L294.9 434.5 L295.0 435.6 L295.0 436.7 L295.1 437.7 L295.1 438.8 L295.2 439.9 L295.2 440.9 L295.3 442.0 L295.3 443.1 L295.4 444.1 L295.4 445.2 L295.5 446.2 L295.5 447.2 L295.6 448.3 L295.6 449.3 L295.7 450.3 L295.7 451.3 L295.8 452.4 L295.8 453.4 L295.9 454.4 L295.9 455.3 L296.0 456.3 L296.0 457.3 L296.1 458.3 L296.1 459.2 L296.2 460.2 L296.2 461.1 L296.3 462.0 L296.3 462.9 L296.4 463.8 L296.4 464.7 L296.5 465.6 L296.5 466.4 L296.6 467.3 L296.6 468.1 L296.7 468.9 L296.7 469.7 L296.8 470.5 L296.8 471.3 L296.9 472.1 L296.9 472.8 L297.0 473.5 L297.0 474.3 L297.1 474.9 L297.1 475.6 L297.2 476.3 L297.2 476.9 L297.3 477.5 L297.3 478.1 L297.4 479.3 L297.5 480.3 L297.6 481.3 L297.7 482.2 L297.8 483.0 L297.9 483.7 L298.0 484.3 L298.2 485.0 L298.4 485.6 L298.9 485.1 L299.1 484.4 L299.3 483.7 L299.4 482.8 L299.5 482.2 L299.6 481.5 L299.7 480.7 L299.8 479.9 L299.9 479.0 L300.0 478.1 L300.1 477.1 L300.2 476.1 L300.3 475.0 L300.4 473.9 L300.5 472.8 L300.6 471.6 L300.7 471.0 L300.7 470.4 L300.8 469.7 L300.8 469.1 L300.9 468.5 L300.9 467.8 L301.0 467.1 L301.0 466.5 L301.1 465.8 L301.1 465.1 L301.2 464.4 L301.2 463.7 L301.3 463.0 L301.3 462.3 L301.4 461.6 L301.4 460.8 L301.5 460.1 L301.5 459.4 L301.6 458.6 L301.6 457.9 L301.7 457.1 L301.7 456.4 L301.8 455.6 L301.8 454.8 L301.9 454.1 L301.9 453.3 L302.0 452.5 L302.0 451.7 L302.1 450.9 L302.1 450.2 L302.2 449.4 L302.2 448.6 L302.3 447.8 L302.3 447.0 L302.4 446.2 L302.4 445.4 L302.5 444.6 L302.5 443.8 L302.6 443.0 L302.6 442.2 L302.7 441.4 L302.7 440.5 L302.8 439.7 L302.8 438.9 L302.9 438.1 L302.9 437.3 L303.0 436.5 L303.0 435.7 L303.1 434.9 L303.1 434.1 L303.2 433.3 L303.2 432.5 L303.3 431.7 L303.3 430.9 L303.4 430.2 L303.4 429.4 L303.5 428.6 L303.5 427.8 L303.6 427.0 L303.6 426.3 L303.7 425.5 L303.7 424.7 L303.8 424.0 L303.8 423.2 L303.9 422.5 L303.9 421.7 L304.0 421.0 L304.0 420.3 L304.1 419.5 L304.1 418.8 L304.2 418.1 L304.2 417.4 L304.3 416.7 L304.3 416.0 L304.4 415.3 L304.4 414.6 L304.5 414.0 L304.5 413.3 L304.6 412.6 L304.6 412.0 L304.7 411.4 L304.7 410.7 L304.8 410.1 L304.8 409.5 L304.9 408.9 L305.0 407.7 L305.1 406.6 L305.2 405.5 L305.3 404.5 L305.4 403.5 L305.5 402.5 L305.6 401.6 L305.7 400.8 L305.8 400.0 L305.9 399.3 L306.0 398.6 L306.1 398.0 L306.2 397.2 L306.4 396.5 L306.6 395.9 L307.0 395.4 L307.3 395.9 L307.5 396.6 L307.7 397.2 L307.8 398.0 L308.0 398.9 L308.1 399.6 L308.2 400.3 L308.3 401.0 L308.4 401.8 L308.5 402.7 L308.6 403.6 L308.7 404.5 L308.8 405.5 L308.9 406.6 L309.0 407.6 L309.1 408.7 L309.2 409.9 L309.3 411.0 L309.3 411.6 L309.4 412.2 L309.4 412.8 L309.5 413.5 L309.5 414.1 L309.6 414.7 L309.6 415.4 L309.7 416.0 L309.7 416.7 L309.8 417.3 L309.8 418.0 L309.9 418.7 L309.9 419.4 L310.0 420.1 L310.0 420.7 L310.1 421.4 L310.1 422.1 L310.2 422.9 L310.2 423.6 L310.3 424.3 L310.3 425.0 L310.4 425.7 L310.4 426.4 L310.5 427.2 L310.5 427.9 L310.6 428.7 L310.6 429.4 L310.7 430.1 L310.7 430.9 L310.8 431.6 L310.8 432.4 L310.9 433.1 L310.9 433.9 L311.0 434.7 L311.0 435.4 L311.1 436.2 L311.1 436.9 L311.2 437.7 L311.2 438.5 L311.3 439.2 L311.3 440.0 L311.4 440.8 L311.4 441.5 L311.5 442.3 L311.5 443.0 L311.6 443.8 L311.6 444.6 L311.7 445.3 L311.7 446.1 L311.8 446.8 L311.8 447.6 L311.9 448.4 L311.9 449.1 L312.0 449.9 L312.0 450.6 L312.1 451.4 L312.1 452.1 L312.2 452.8 L312.2 453.6 L312.3 454.3 L312.3 455.1 L312.4 455.8 L312.4 456.5 L312.5 457.2 L312.5 457.9 L312.6 458.6 L312.6 459.4 L312.7 460.1 L312.7 460.8 L312.8 461.4 L312.8 462.1 L312.9 462.8 L312.9 463.5 L313.0 464.2 L313.0 464.8 L313.1 465.5 L313.1 466.1 L313.2 466.8 L313.2 467.4 L313.3 468.0 L313.3 468.7 L313.4 469.3 L313.4 469.9 L313.5 470.5 L313.6 471.6 L313.7 472.8 L313.8 473.9 L313.9 474.9 L314.0 476.0 L314.1 477.0 L314.2 477.9 L314.3 478.8 L314.4 479.7 L314.5 480.5 L314.6 481.2 L314.7 481.9 L314.8 482.6 L314.9 483.2 L315.0 484.0 L315.2 484.7 L315.4 485.4 L315.7 486.0 L316.2 485.6 L316.4 484.9 L316.6 484.3 L316.7 483.5 L316.9 482.7 L317.0 482.0 L317.1 481.3 L317.2 480.6 L317.3 479.8 L317.4 478.9 L317.5 478.1 L317.6 477.1 L317.7 476.2 L317.8 475.2 L317.9 474.1 L318.0 473.1 L318.1 471.9 L318.2 470.8 L318.3 469.6 L318.4 468.4 L318.4 467.8 L318.5 467.2 L318.5 466.6 L318.6 465.9 L318.6 465.3 L318.7 464.7 L318.7 464.0 L318.8 463.4 L318.8 462.7 L318.9 462.0 L318.9 461.4 L319.0 460.7 L319.0 460.0 L319.1 459.3 L319.1 458.7 L319.2 458.0 L319.2 457.3 L319.3 456.6 L319.3 455.9 L319.4 455.2 L319.4 454.5 L319.5 453.7 L319.5 453.0 L319.6 452.3 L319.6 451.6 L319.7 450.9 L319.7 450.2 L319.8 449.4 L319.8 448.7 L319.9 448.0 L319.9 447.3 L320.0 446.5 L320.0 445.8 L320.1 445.1 L320.1 444.3 L320.2 443.6 L320.2 442.9 L320.3 442.2 L320.3 441.4 L320.4 440.7 L320.4 440.0 L320.5 439.3 L320.5 438.5 L320.6 437.8 L320.6 437.1 L320.7 436.4 L320.7 435.7 L320.8 435.0 L320.8 434.2 L320.9 433.5 L320.9 432.8 L321.0 432.1 L321.0 431.4 L321.1 430.7 L321.1 430.0 L321.2 429.4 L321.2 428.7 L321.3 428.0 L321.3 427.3 L321.4 426.7 L321.4 426.0 L321.5 425.3 L321.5 424.7 L321.6 424.0 L321.6 423.4 L321.7 422.8 L321.7 422.1 L321.8 421.5 L321.8 420.9 L321.9 420.3 L321.9 419.7 L322.0 418.5 L322.1 417.3 L322.2 416.2 L322.3 415.1 L322.4 414.0 L322.5 413.0 L322.6 412.0 L322.7 411.1 L322.8 410.2 L322.9 409.3 L323.0 408.5 L323.1 407.7 L323.2 407.0 L323.3 406.3 L323.4 405.7 L323.6 404.9 L323.7 404.2 L323.9 403.6 L324.1 403.0 L324.6 402.7 L324.9 403.2 L325.1 403.9 L325.2 404.5 L325.4 405.3 L325.5 406.1 L325.6 406.8 L325.7 407.5 L325.8 408.2 L325.9 409.0 L326.0 409.8 L326.1 410.6 L326.2 411.5 L326.3 412.5 L326.4 413.4 L326.5 414.4 L326.6 415.5 L326.7 416.5 L326.8 417.6 L326.9 418.8 L327.0 419.9 L327.1 421.1 L327.2 421.7 L327.2 422.3 L327.3 422.9 L327.3 423.5 L327.4 424.2 L327.4 424.8 L327.5 425.4 L327.5 426.1 L327.6 426.7 L327.6 427.4 L327.7 428.0 L327.7 428.7 L327.8 429.3 L327.8 430.0 L327.9 430.7 L327.9 431.4 L328.0 432.0 L328.0 432.7 L328.1 433.4 L328.1 434.1 L328.2 434.8 L328.2 435.5 L328.3 436.2 L328.3 436.9 L328.4 437.6 L328.4 438.3 L328.5 439.0 L328.5 439.7 L328.6 440.4 L328.6 441.1 L328.7 441.8 L328.7 442.5 L328.8 443.2 L328.8 443.9 L328.9 444.6 L328.9 445.3 L329.0 446.0 L329.0 446.7 L329.1 447.4 L329.1 448.1 L329.2 448.8 L329.2 449.5 L329.3 450.2 L329.3 450.9 L329.4 451.6 L329.4 452.3 L329.5 453.0 L329.5 453.7 L329.6 454.4 L329.6 455.1 L329.7 455.8 L329.7 456.5 L329.8 457.2 L329.8 457.8 L329.9 458.5 L329.9 459.2 L330.0 459.9 L330.0 460.5 L330.1 461.2 L330.1 461.8 L330.2 462.5 L330.2 463.1 L330.3 463.8 L330.3 464.4 L330.4 465.0 L330.4 465.7 L330.5 466.3 L330.5 466.9 L330.6 467.5 L330.6 468.1 L330.7 469.3 L330.8 470.4 L330.9 471.6 L331.0 472.7 L331.1 473.7 L331.2 474.8 L331.3 475.8 L331.4 476.7 L331.5 477.7 L331.6 478.6 L331.7 479.4 L331.8 480.2 L331.9 481.0 L332.0 481.7 L332.1 482.4 L332.2 483.1 L332.4 483.9 L332.5 484.7 L332.7 485.3 L332.9 486.0 L333.2 486.5 L333.7 486.2 L334.0 485.5 L334.2 484.8 L334.3 484.2 L334.5 483.4 L334.6 482.6 L334.7 482.0 L334.8 481.3 L334.9 480.6 L335.0 479.9 L335.1 479.2 L335.2 478.4 L335.3 477.6 L335.4 476.7 L335.5 475.8 L335.6 474.9 L335.7 474.0 L335.8 473.0 L335.9 472.1 L336.0 471.1 L336.1 470.0 L336.2 469.0 L336.3 467.9 L336.4 466.8 L336.5 465.7 L336.6 464.6 L336.7 463.4 L336.8 462.3 L336.9 461.1 L337.0 459.9 L337.1 459.3 L337.1 458.7 L337.2 458.1 L337.2 457.5 L337.3 456.9 L337.3 456.3 L337.4 455.7 L337.4 455.1 L337.5 454.4 L337.5 453.8 L337.6 453.2 L337.6 452.6 L337.7 452.0 L337.7 451.3 L337.8 450.7 L337.8 450.1 L337.9 449.4 L337.9 448.8 L338.0 448.2 L338.0 447.6 L338.1 446.9 L338.1 446.3 L338.2 445.7 L338.2 445.0 L338.3 444.4 L338.3 443.8 L338.4 443.2 L338.4 442.5 L338.5 441.9 L338.5 441.3 L338.6 440.6 L338.6 440.0 L338.7 439.4 L338.7 438.8 L338.8 438.2 L338.8 437.5 L338.9 436.9 L338.9 436.3 L339.0 435.7 L339.0 435.1 L339.1 434.5 L339.1 433.9 L339.2 433.3 L339.2 432.7 L339.3 431.5 L339.4 430.3 L339.5 429.2 L339.6 428.0 L339.7 426.9 L339.8 425.8 L339.9 424.7 L340.0 423.6 L340.1 422.6 L340.2 421.5 L340.3 420.5 L340.4 419.6 L340.5 418.6 L340.6 417.7 L340.7 416.8 L340.8 415.9 L340.9 415.0 L341.0 414.2 L341.1 413.4 L341.2 412.7 L341.3 412.0 L341.4 411.3 L341.5 410.6 L341.6 410.0 L341.8 409.2 L341.9 408.4 L342.1 407.8 L342.3 407.1 L342.5 406.4 L343.0 406.0 L343.4 406.5 L343.6 407.1 L343.8 407.9 L343.9 408.6 L344.1 409.3 L344.2 410.2 L344.3 410.9 L344.4 411.5 L344.5 412.2 L344.6 413.0 L344.7 413.8 L344.8 414.6 L344.9 415.4 L345.0 416.3 L345.1 417.2 L345.2 418.2 L345.3 419.1 L345.4 420.1 L345.5 421.2 L345.6 422.2 L345.7 423.3 L345.8 424.4 L345.9 425.5 L346.0 426.6 L346.1 427.8 L346.2 428.9 L346.3 430.1 L346.4 430.7 L346.4 431.3 L346.5 431.9 L346.5 432.5 L346.6 433.2 L346.6 433.8 L346.7 434.4 L346.7 435.0 L346.8 435.6 L346.8 436.3 L346.9 436.9 L346.9 437.5 L347.0 438.2 L347.0 438.8 L347.1 439.4 L347.1 440.1 L347.2 440.7 L347.2 441.3 L347.3 442.0 L347.3 442.6 L347.4 443.3 L347.4 443.9 L347.5 444.6 L347.5 445.2 L347.6 445.9 L347.6 446.5 L347.7 447.1 L347.7 447.8 L347.8 448.4 L347.8 449.1 L347.9 449.7 L347.9 450.4 L348.0 451.0 L348.0 451.7 L348.1 452.3 L348.1 452.9 L348.2 453.6 L348.2 454.2 L348.3 454.8 L348.3 455.5 L348.4 456.1 L348.4 456.7 L348.5 457.4 L348.5 458.0 L348.6 458.6 L348.6 459.2 L348.7 459.8 L348.7 460.5 L348.8 461.1 L348.8 461.7 L348.9 462.3 L348.9 462.9 L349.0 464.1 L349.1 465.2 L349.2 466.4 L349.3 467.5 L349.4 468.6 L349.5 469.7 L349.6 470.8 L349.7 471.8 L349.8 472.9 L349.9 473.9 L350.0 474.8 L350.1 475.8 L350.2 476.7 L350.3 477.6 L350.4 478.4 L350.5 479.2 L350.6 480.0 L350.7 480.8 L350.8 481.5 L350.9 482.1 L351.0 482.8 L351.1 483.4 L351.3 484.2 L351.4 484.9 L351.6 485.5 L351.8 486.2 L352.0 486.8 L352.6 486.8 L353.0 486.2 L353.2 485.5 L353.4 484.7 L353.6 484.1 L353.7 483.4 L353.9 482.7 L354.0 481.8 L354.2 480.9 L354.3 480.3 L354.4 479.7 L354.5 479.0 L354.6 478.3 L354.7 477.6 L354.8 476.8 L354.9 476.0 L355.0 475.2 L355.1 474.4 L355.2 473.6 L355.3 472.8 L355.4 471.9 L355.5 471.0 L355.6 470.1 L355.7 469.2 L355.8 468.2 L355.9 467.3 L356.0 466.3 L356.1 465.3 L356.2 464.3 L356.3 463.3 L356.4 462.3 L356.5 461.3 L356.6 460.3 L356.7 459.2 L356.8 458.2 L356.9 457.1 L357.0 456.0 L357.1 455.0 L357.2 453.9 L357.3 452.8 L357.4 451.7 L357.5 450.6 L357.6 449.5 L357.7 448.4 L357.8 447.3 L357.9 446.3 L358.0 445.2 L358.1 444.1 L358.2 443.0 L358.3 441.9 L358.4 440.8 L358.5 439.7 L358.6 438.6 L358.7 437.6 L358.8 436.5 L358.9 435.4 L359.0 434.4 L359.1 433.3 L359.2 432.3 L359.3 431.3 L359.4 430.3 L359.5 429.3 L359.6 428.3 L359.7 427.3 L359.8 426.3 L359.9 425.4 L360.0 424.4 L360.1 423.5 L360.2 422.6 L360.3 421.7 L360.4 420.8 L360.5 420.0 L360.6 419.2 L360.7 418.4 L360.8 417.6 L360.9 416.8 L361.0 416.0 L361.1 415.3 L361.2 414.6 L361.3 413.9 L361.4 413.3 L361.5 412.7 L361.6 412.1 L361.7 411.2 L361.9 410.4 L362.0 409.7 L362.2 409.1 L362.4 408.3 L362.6 407.7 L362.8 407.1 L363.2 406.6 L363.8 407.0 L364.0 407.6 L364.2 408.3 L364.4 408.9 L364.5 409.5 L364.7 410.3 L364.8 411.1 L365.0 412.0 L365.1 412.6 L365.2 413.2 L365.3 413.9 L365.4 414.6 L365.5 415.4 L365.6 416.1 L365.7 416.9 L365.8 417.7 L365.9 418.6 L366.0 419.4 L366.1 420.3 L366.2 421.2 L366.3 422.1 L366.4 423.1 L366.5 424.0 L366.6 425.0 L366.7 426.0 L366.8 427.0 L366.9 428.0 L367.0 429.1 L367.1 430.1 L367.2 431.2 L367.3 432.2 L367.4 433.3 L367.5 434.4 L367.6 435.5 L367.7 436.6 L367.8 437.8 L367.9 438.9 L368.0 440.0 L368.1 441.2 L368.2 442.3 L368.3 443.4 L368.4 444.6 L368.5 445.7 L368.6 446.9 L368.7 448.0 L368.8 449.2 L368.9 450.3 L369.0 451.5 L369.1 452.6 L369.2 453.7 L369.3 454.9 L369.4 456.0 L369.5 457.1 L369.6 458.2 L369.7 459.3 L369.8 460.4 L369.9 461.5 L370.0 462.6 L370.1 463.6 L370.2 464.7 L370.3 465.7 L370.4 466.7 L370.5 467.7 L370.6 468.7 L370.7 469.7 L370.8 470.6 L370.9 471.5 L371.0 472.4 L371.1 473.3 L371.2 474.2 L371.3 475.1 L371.4 475.9 L371.5 476.7 L371.6 477.5 L371.7 478.2 L371.8 478.9 L371.9 479.6 L372.0 480.3 L372.1 480.9 L372.2 481.5 L372.3 482.4 L372.5 483.2 L372.6 483.9 L372.8 484.5 L373.0 485.3 L373.2 485.8 L373.5 486.4 L374.1 486.4 L374.4 485.9 L374.7 485.2 L374.9 484.6 L375.1 483.8 L375.2 483.2 L375.4 482.5 L375.5 481.7 L375.7 480.9 L375.8 480.0 L375.9 479.4 L376.0 478.8 L376.1 478.1 L376.2 477.5 L376.3 476.8 L376.4 476.0 L376.5 475.3 L376.6 474.6 L376.7 473.8 L376.8 473.0 L376.9 472.2 L377.0 471.4 L377.1 470.5 L377.2 469.7 L377.3 468.8 L377.4 467.9 L377.5 467.0 L377.6 466.1 L377.7 465.2 L377.8 464.2 L377.9 463.3 L378.0 462.3 L378.1 461.3 L378.2 460.4 L378.3 459.4 L378.4 458.4 L378.5 457.4 L378.6 456.4 L378.7 455.4 L378.8 454.3 L378.9 453.3 L379.0 452.3 L379.1 451.3 L379.2 450.2 L379.3 449.2 L379.4 448.1 L379.5 447.1 L379.6 446.0 L379.7 445.0 L379.8 443.9 L379.9 442.9 L380.0 441.9 L380.1 440.8 L380.2 439.8 L380.3 438.7 L380.4 437.7 L380.5 436.7 L380.6 435.6 L380.7 434.6 L380.8 433.6 L380.9 432.6 L381.0 431.6 L381.1 430.6 L381.2 429.6 L381.3 428.7 L381.4 427.7 L381.5 426.7 L381.6 425.8 L381.7 424.9 L381.8 424.0 L381.9 423.1 L382.0 422.2 L382.1 421.3 L382.2 420.4 L382.3 419.6 L382.4 418.7 L382.5 417.9 L382.6 417.1 L382.7 416.3 L382.8 415.6 L382.9 414.8 L383.0 414.1 L383.1 413.4 L383.2 412.7 L383.3 412.0 L383.4 411.4 L383.5 410.8 L383.6 410.2 L383.8 409.3 L383.9 408.5 L384.1 407.8 L384.2 407.1 L384.4 406.5 L384.6 405.7 L384.8 405.1 L385.0 404.5 L385.4 404.0 L386.0 404.2 L386.3 404.8 L386.5 405.5 L386.7 406.2 L386.8 406.9 L387.0 407.7 L387.1 408.5 L387.2 409.1 L387.3 409.8 L387.4 410.4 L387.5 411.1 L387.6 411.8 L387.7 412.6 L387.8 413.4 L387.9 414.2 L388.0 415.0 L388.1 415.8 L388.2 416.7 L388.3 417.6 L388.4 418.5 L388.5 419.5 L388.6 420.4 L388.7 421.4 L388.8 422.4 L388.9 423.4 L389.0 424.5 L389.1 425.5 L389.2 426.6 L389.3 427.7 L389.4 428.7 L389.5 429.8 L389.6 431.0 L389.7 432.1 L389.8 433.2 L389.9 434.4 L390.0 435.5 L390.1 436.7 L390.2 437.8 L390.3 439.0 L390.4 440.2 L390.5 441.4 L390.6 442.5 L390.7 443.7 L390.8 444.9 L390.9 446.1 L391.0 447.3 L391.1 448.4 L391.2 449.6 L391.3 450.8 L391.4 452.0 L391.5 453.1 L391.6 454.3 L391.7 455.4 L391.8 456.6 L391.9 457.7 L392.0 458.8 L392.1 460.0 L392.2 461.1 L392.3 462.1 L392.4 463.2 L392.5 464.3 L392.6 465.3 L392.7 466.4 L392.8 467.4 L392.9 468.4 L393.0 469.4 L393.1 470.3 L393.2 471.3 L393.3 472.2 L393.4 473.1 L393.5 474.0 L393.6 474.8 L393.7 475.6 L393.8 476.4 L393.9 477.2 L394.0 478.0 L394.1 478.7 L394.2 479.4 L394.3 480.0 L394.4 480.7 L394.5 481.3 L394.7 482.1 L394.8 482.9 L395.0 483.6 L395.1 484.2 L395.3 484.8 L395.6 485.5 L396.0 485.9 L396.5 485.5 L396.8 485.0 L397.1 484.4 L397.3 483.8 L397.5 483.1 L397.6 482.5 L397.8 481.8 L397.9 481.1 L398.1 480.4 L398.2 479.6 L398.4 478.8 L398.5 477.9 L398.6 477.3 L398.7 476.7 L398.8 476.1 L398.9 475.4 L399.0 474.8 L399.1 474.1 L399.2 473.4 L399.3 472.6 L399.4 471.9 L399.5 471.2 L399.6 470.4 L399.7 469.6 L399.8 468.8 L399.9 468.0 L400.0 467.2 L400.1 466.4 L400.2 465.6 L400.3 464.7 L400.4 463.9 L400.5 463.0 L400.6 462.1 L400.7 461.2 L400.8 460.3 L400.9 459.4 L401.0 458.5 L401.1 457.6 L401.2 456.7 L401.3 455.7 L401.4 454.8 L401.5 453.8 L401.6 452.9 L401.7 451.9 L401.8 451.0 L401.9 450.0 L402.0 449.0 L402.1 448.0 L402.2 447.1 L402.3 446.1 L402.4 445.1 L402.5 444.1 L402.6 443.1 L402.7 442.1 L402.8 441.1 L402.9 440.2 L403.0 439.2 L403.1 438.2 L403.2 437.2 L403.3 436.2 L403.4 435.2 L403.5 434.3 L403.6 433.3 L403.7 432.3 L403.8 431.3 L403.9 430.4 L404.0 429.4 L404.1 428.5 L404.2 427.5 L404.3 426.6 L404.4 425.6 L404.5 424.7 L404.6 423.8 L404.7 422.9 L404.8 422.0 L404.9 421.1 L405.0 420.2 L405.1 419.3 L405.2 418.4 L405.3 417.6 L405.4 416.7 L405.5 415.9 L405.6 415.1 L405.7 414.3 L405.8 413.5 L405.9 412.7 L406.0 411.9 L406.1 411.1 L406.2 410.4 L406.3 409.7 L406.4 408.9 L406.5 408.2 L406.6 407.5 L406.7 406.9 L406.8 406.2 L406.9 405.6 L407.0 405.0 L407.1 404.4 L407.3 403.5 L407.4 402.7 L407.6 401.9 L407.7 401.2 L407.9 400.5 L408.0 399.8 L408.2 399.2 L408.4 398.5 L408.6 397.9 L408.8 397.3 L409.1 396.8 L409.6 396.4 L410.1 396.8 L410.4 397.5 L410.6 398.1 L410.8 398.8 L411.0 399.4 L411.1 400.1 L411.3 400.8 L411.4 401.6 L411.6 402.4 L411.7 403.0 L411.8 403.6 L411.9 404.3 L412.0 405.0 L412.1 405.6 L412.2 406.3 L412.3 407.1 L412.4 407.8 L412.5 408.6 L412.6 409.4 L412.7 410.2 L412.8 411.0 L412.9 411.8 L413.0 412.7 L413.1 413.6 L413.2 414.5 L413.3 415.4 L413.4 416.3 L413.5 417.2 L413.6 418.2 L413.7 419.1 L413.8 420.1 L413.9 421.1 L414.0 422.1 L414.1 423.1 L414.2 424.1 L414.3 425.1 L414.4 426.1 L414.5 427.2 L414.6 428.2 L414.7 429.3 L414.8 430.3 L414.9 431.4 L415.0 432.5 L415.1 433.5 L415.2 434.6 L415.3 435.7 L415.4 436.8 L415.5 437.9 L415.6 439.0 L415.7 440.1 L415.8 441.2 L415.9 442.2 L416.0 443.3 L416.1 444.4 L416.2 445.5 L416.3 446.6 L416.4 447.7 L416.5 448.8 L416.6 449.8 L416.7 450.9 L416.8 452.0 L416.9 453.0 L417.0 454.1 L417.1 455.1 L417.2 456.2 L417.3 457.2 L417.4 458.2 L417.5 459.2 L417.6 460.2 L417.7 461.2 L417.8 462.2 L417.9 463.2 L418.0 464.1 L418.1 465.1 L418.2 466.0 L418.3 466.9 L418.4 467.8 L418.5 468.7 L418.6 469.6 L418.7 470.5 L418.8 471.3 L418.9 472.1 L419.0 472.9 L419.1 473.7 L419.2 474.5 L419.3 475.2 L419.4 476.0 L419.5 476.7 L419.6 477.3 L419.7 478.0 L419.8 478.7 L419.9 479.3 L420.0 479.9 L420.1 480.7 L420.3 481.5 L420.4 482.2 L420.6 482.9 L420.7 483.5 L420.9 484.2 L421.1 484.8 L421.4 485.4 L421.8 485.9 L422.4 485.5 L422.7 484.9 L422.9 484.2 L423.1 483.5 L423.3 482.9 L423.4 482.2 L423.6 481.5 L423.7 480.7 L423.9 479.8 L424.0 479.2 L424.1 478.6 L424.2 478.0 L424.3 477.3 L424.4 476.6 L424.5 475.9 L424.6 475.1 L424.7 474.4 L424.8 473.6 L424.9 472.8 L425.0 472.0 L425.1 471.1 L425.2 470.3 L425.3 469.4 L425.4 468.5 L425.5 467.6 L425.6 466.7 L425.7 465.7 L425.8 464.8 L425.9 463.8 L426.0 462.8 L426.1 461.8 L426.2 460.8 L426.3 459.8 L426.4 458.7 L426.5 457.7 L426.6 456.6 L426.7 455.6 L426.8 454.5 L426.9 453.4 L427.0 452.3 L427.1 451.2 L427.2 450.1 L427.3 449.0 L427.4 447.9 L427.5 446.7 L427.6 445.6 L427.7 444.4 L427.8 443.3 L427.9 442.1 L428.0 441.0 L428.1 439.8 L428.2 438.7 L428.3 437.5 L428.4 436.4 L428.5 435.2 L428.6 434.0 L428.7 432.9 L428.8 431.7 L428.9 430.6 L429.0 429.4 L429.1 428.3 L429.2 427.1 L429.3 426.0 L429.4 424.8 L429.5 423.7 L429.6 422.5 L429.7 421.4 L429.8 420.3 L429.9 419.2 L430.0 418.1 L430.1 417.0 L430.2 415.9 L430.3 414.8 L430.4 413.8 L430.5 412.7 L430.6 411.7 L430.7 410.6 L430.8 409.6 L430.9 408.6 L431.0 407.6 L431.1 406.6 L431.2 405.6 L431.3 404.7 L431.4 403.7 L431.5 402.8 L431.6 401.9 L431.7 401.0 L431.8 400.1 L431.9 399.3 L432.0 398.4 L432.1 397.6 L432.2 396.8 L432.3 396.0 L432.4 395.3 L432.5 394.5 L432.6 393.8 L432.7 393.1 L432.8 392.4 L432.9 391.8 L433.0 391.2 L433.1 390.6 L433.2 389.7 L433.4 388.9 L433.5 388.2 L433.7 387.5 L433.8 386.9 L434.0 386.2 L434.2 385.6 L434.5 385.0 L434.9 384.5 L435.5 384.8 L435.8 385.4 L436.0 386.1 L436.2 386.8 L436.4 387.6 L436.6 388.2 L436.7 388.9 L436.9 389.7 L437.0 390.5 L437.2 391.4 L437.3 392.0 L437.4 392.7 L437.5 393.3 L437.6 394.0 L437.7 394.7 L437.8 395.4 L437.9 396.2 L438.0 396.9 L438.1 397.7 L438.2 398.5 L438.3 399.3 L438.4 400.1 L438.5 401.0 L438.6 401.8 L438.7 402.7 L438.8 403.6 L438.9 404.5 L439.0 405.4 L439.1 406.4 L439.2 407.3 L439.3 408.3 L439.4 409.2 L439.5 410.2 L439.6 411.2 L439.7 412.2 L439.8 413.2 L439.9 414.2 L440.0 415.3 L440.1 416.3 L440.2 417.3 L440.3 418.4 L440.4 419.5 L440.5 420.5 L440.6 421.6 L440.7 422.7 L440.8 423.7 L440.9 424.8 L441.0 425.9 L441.1 427.0 L441.2 428.1 L441.3 429.2 L441.4 430.3 L441.5 431.4 L441.6 432.5 L441.7 433.6 L441.8 434.7 L441.9 435.8 L442.0 436.9 L442.1 438.0 L442.2 439.1 L442.3 440.2 L442.4 441.3 L442.5 442.3 L442.6 443.4 L442.7 444.5 L442.8 445.5 L442.9 446.6 L443.0 447.7 L443.1 448.7 L443.2 449.7 L443.3 450.8 L443.4 451.8 L443.5 452.8 L443.6 453.8 L443.7 454.8 L443.8 455.8 L443.9 456.7 L444.0 457.7 L444.1 458.6 L444.2 459.6 L444.3 460.5 L444.4 461.4 L444.5 462.3 L444.6 463.2 L444.7 464.0 L444.8 464.9 L444.9 465.7 L445.0 466.5 L445.1 467.3 L445.2 468.1 L445.3 468.8 L445.4 469.6 L445.5 470.3 L445.6 471.0 L445.7 471.7 L445.8 472.3 L445.9 473.0 L446.0 473.6 L446.1 474.2 L446.2 475.0 L446.4 475.8 L446.5 476.6 L446.7 477.2 L446.8 477.9 L447.0 478.6 L447.2 479.2 L447.5 479.8 L447.8 480.4 L448.4 480.4 L448.8 479.8 L449.0 479.3 L449.2 478.7 L449.4 477.9 L449.6 477.4 L449.7 476.7 L449.9 476.0 L450.0 475.2 L450.2 474.4 L450.3 473.5 L450.4 472.9 L450.5 472.3 L450.6 471.6 L450.7 470.9 L450.8 470.2 L450.9 469.5 L451.0 468.8 L451.1 468.0 L451.2 467.3 L451.3 466.5 L451.4 465.7 L451.5 464.8 L451.6 464.0 L451.7 463.1 L451.8 462.2 L451.9 461.4 L452.0 460.4 L452.1 459.5 L452.2 458.6 L452.3 457.6 L452.4 456.7 L452.5 455.7 L452.6 454.7 L452.7 453.7 L452.8 452.7 L452.9 451.6 L453.0 450.6 L453.1 449.5 L453.2 448.5 L453.3 447.4 L453.4 446.3 L453.5 445.3 L453.6 444.2 L453.7 443.1 L453.8 441.9 L453.9 440.8 L454.0 439.7 L454.1 438.6 L454.2 437.4 L454.3 436.3 L454.4 435.1 L454.5 434.0 L454.6 432.8 L454.7 431.7 L454.8 430.5 L454.9 429.3 L455.0 428.2 L455.1 427.0 L455.2 425.8 L455.3 424.7 L455.4 423.5 L455.5 422.3 L455.6 421.2 L455.7 420.0 L455.8 418.8 L455.9 417.7 L456.0 416.5 L456.1 415.3 L456.2 414.2 L456.3 413.0 L456.4 411.9 L456.5 410.7 L456.6 409.6 L456.7 408.4 L456.8 407.3 L456.9 406.2 L457.0 405.1 L457.1 403.9 L457.2 402.8 L457.3 401.7 L457.4 400.7 L457.5 399.6 L457.6 398.5 L457.7 397.5 L457.8 396.4 L457.9 395.4 L458.0 394.3 L458.1 393.3 L458.2 392.3 L458.3 391.3 L458.4 390.3 L458.5 389.4 L458.6 388.4 L458.7 387.5 L458.8 386.6 L458.9 385.6 L459.0 384.8 L459.1 383.9 L459.2 383.0 L459.3 382.2 L459.4 381.3 L459.5 380.5 L459.6 379.7 L459.7 379.0 L459.8 378.2 L459.9 377.5 L460.0 376.8 L460.1 376.1 L460.2 375.4 L460.3 374.7 L460.4 374.1 L460.5 373.5 L460.7 372.6 L460.8 371.8 L461.0 371.0 L461.1 370.3 L461.3 369.6 L461.4 369.1 L461.6 368.3 L461.8 367.7 L462.1 367.2 L462.4 366.6 L463.0 366.7 L463.3 367.3 L463.5 367.9 L463.7 368.6 L463.9 369.2 L464.0 370.0 L464.2 370.8 L464.3 371.6 L464.4 372.3 L464.5 372.9 L464.6 373.6 L464.7 374.3 L464.8 375.1 L464.9 375.9 L465.0 376.7 L465.1 377.5 L465.2 378.4 L465.3 379.2 L465.4 380.1 L465.5 381.1 L465.6 382.0 L465.7 383.0 L465.8 384.0 L465.9 385.0 L466.0 386.1 L466.1 387.1 L466.2 388.2 L466.3 389.3 L466.4 390.4 L466.5 391.5 L466.6 392.7 L466.7 393.8 L466.8 395.0 L466.9 396.2 L467.0 397.4 L467.1 398.0 L467.1 398.6 L467.2 399.2 L467.2 399.8 L467.3 400.4 L467.3 401.0 L467.4 401.6 L467.4 402.3 L467.5 402.9 L467.5 403.5 L467.6 404.1 L467.6 404.8 L467.7 405.4 L467.7 406.0 L467.8 406.7 L467.8 407.3 L467.9 407.9 L467.9 408.6 L468.0 409.2 L468.0 409.9 L468.1 410.5 L468.1 411.1 L468.2 411.8 L468.2 412.4 L468.3 413.1 L468.3 413.7 L468.4 414.4 L468.4 415.0 L468.5 415.7 L468.5 416.3 L468.6 417.0 L468.6 417.6 L468.7 418.2 L468.7 418.9 L468.8 419.5 L468.8 420.2 L468.9 420.8 L468.9 421.5 L469.0 422.1 L469.0 422.8 L469.1 423.4 L469.1 424.0 L469.2 424.7 L469.2 425.3 L469.3 426.0 L469.3 426.6 L469.4 427.2 L469.4 427.9 L469.5 428.5 L469.5 429.1 L469.6 429.8 L469.6 430.4 L469.7 431.0 L469.7 431.6 L469.8 432.3 L469.8 432.9 L469.9 433.5 L469.9 434.1 L470.0 434.7 L470.0 435.3 L470.1 435.9 L470.1 436.5 L470.2 437.1 L470.3 438.3 L470.4 439.5 L470.5 440.7 L470.6 441.8 L470.7 442.9 L470.8 444.1 L470.9 445.2 L471.0 446.3 L471.1 447.3 L471.2 448.4 L471.3 449.4 L471.4 450.4 L471.5 451.4 L471.6 452.4 L471.7 453.3 L471.8 454.2 L471.9 455.1 L472.0 456.0 L472.1 456.8 L472.2 457.6 L472.3 458.4 L472.4 459.2 L472.5 459.9 L472.6 460.6 L472.7 461.3 L472.8 461.9 L472.9 462.6 L473.0 463.4 L473.2 464.2 L473.3 464.9 L473.5 465.5 L473.7 466.2 L473.9 466.9 L474.3 467.4 L474.9 467.1 L475.2 466.6 L475.5 466.1 L475.7 465.4 L475.9 464.7 L476.1 464.0 L476.3 463.4 L476.4 462.7 L476.6 462.0 L476.7 461.3 L476.9 460.5 L477.0 459.7 L477.2 458.8 L477.3 458.2 L477.4 457.6 L477.5 456.9 L477.6 456.3 L477.7 455.6 L477.8 455.0 L477.9 454.3 L478.0 453.5 L478.1 452.8 L478.2 452.1 L478.3 451.3 L478.4 450.6 L478.5 449.8 L478.6 449.0 L478.7 448.2 L478.8 447.3 L478.9 446.5 L479.0 445.7 L479.1 444.8 L479.2 443.9 L479.3 443.0 L479.4 442.1 L479.5 441.2 L479.6 440.3 L479.7 439.4 L479.8 438.4 L479.9 437.5 L480.0 436.5 L480.1 435.6 L480.2 434.6 L480.3 433.6 L480.4 432.6 L480.5 431.6 L480.6 430.6 L480.7 429.6 L480.8 428.6 L480.9 427.5 L481.0 426.5 L481.1 425.5 L481.2 424.4 L481.3 423.4 L481.4 422.3 L481.5 421.2 L481.6 420.2 L481.7 419.1 L481.8 418.0 L481.9 416.9 L482.0 415.9 L482.1 414.8 L482.2 413.7 L482.3 412.6 L482.4 411.5 L482.5 410.4 L482.6 409.3 L482.7 408.2 L482.8 407.1 L482.9 406.0 L483.0 404.9 L483.1 403.8 L483.2 402.6 L483.3 401.5 L483.4 400.4 L483.5 399.3 L483.6 398.2 L483.7 397.1 L483.8 396.0 L483.9 394.9 L484.0 393.8 L484.1 392.7 L484.2 391.6 L484.3 390.5 L484.4 389.5 L484.5 388.4 L484.6 387.3 L484.7 386.2 L484.8 385.2 L484.9 384.1 L485.0 383.0 L485.1 382.0 L485.2 380.9 L485.3 379.9 L485.4 378.9 L485.5 377.8 L485.6 376.8 L485.7 375.8 L485.8 374.8 L485.9 373.8 L486.0 372.8 L486.1 371.8 L486.2 370.8 L486.3 369.9 L486.4 368.9 L486.5 368.0 L486.6 367.0 L486.7 366.1 L486.8 365.2 L486.9 364.3 L487.0 363.4 L487.1 362.5 L487.2 361.6 L487.3 360.7 L487.4 359.9 L487.5 359.1 L487.6 358.2 L487.7 357.4 L487.8 356.6 L487.9 355.8 L488.0 355.1 L488.1 354.3 L488.2 353.6 L488.3 352.9 L488.4 352.1 L488.5 351.4 L488.6 350.8 L488.7 350.1 L488.8 349.5 L488.9 348.8 L489.0 348.2 L489.1 347.6 L489.2 346.7 L489.4 345.9 L489.5 345.1 L489.7 344.4 L489.8 343.7 L490.0 343.0 L490.1 342.4 L490.3 341.7 L490.5 341.0 L490.7 340.5 L491.0 339.9 L491.3 339.3 L491.9 339.0 L492.2 339.6 L492.4 340.4 L492.6 341.1 L492.7 342.0 L492.8 342.7 L492.9 343.4 L493.0 344.2 L493.1 345.0 L493.2 345.9 L493.3 346.9 L493.4 347.9 L493.5 349.0 L493.6 350.1 L493.7 351.2 L493.8 352.4 L493.9 353.0 L493.9 353.7 L494.0 354.3 L494.0 354.9 L494.1 355.6 L494.1 356.2 L494.2 356.9 L494.2 357.6 L494.3 358.3 L494.3 359.0 L494.4 359.7 L494.4 360.4 L494.5 361.1 L494.5 361.8 L494.6 362.6 L494.6 363.3 L494.7 364.1 L494.7 364.8 L494.8 365.6 L494.8 366.3 L494.9 367.1 L494.9 367.9 L495.0 368.7 L495.0 369.5 L495.1 370.3 L495.1 371.1 L495.2 371.9 L495.2 372.7 L495.3 373.5 L495.3 374.3 L495.4 375.1 L495.4 375.9 L495.5 376.7 L495.5 377.6 L495.6 378.4 L495.6 379.2 L495.7 380.1 L495.7 380.9 L495.8 381.7 L495.8 382.6 L495.9 383.4 L495.9 384.2 L496.0 385.1 L496.0 385.9 L496.1 386.7 L496.1 387.6 L496.2 388.4 L496.2 389.2 L496.3 390.1 L496.3 390.9 L496.4 391.7 L496.4 392.6 L496.5 393.4 L496.5 394.2 L496.6 395.1 L496.6 395.9 L496.7 396.7 L496.7 397.5 L496.8 398.3 L496.8 399.1 L496.9 399.9 L496.9 400.7 L497.0 401.5 L497.0 402.3 L497.1 403.1 L497.1 403.9 L497.2 404.7 L497.2 405.5 L497.3 406.2 L497.3 407.0 L497.4 407.7 L497.4 408.5 L497.5 409.2 L497.5 410.0 L497.6 410.7 L497.6 411.4 L497.7 412.1 L497.7 412.8 L497.8 413.5 L497.8 414.2 L497.9 414.9 L497.9 415.6 L498.0 416.2 L498.0 416.9 L498.1 417.5 L498.1 418.1 L498.2 418.8 L498.2 419.4 L498.3 420.0 L498.4 421.2 L498.5 422.3 L498.6 423.4 L498.7 424.4 L498.8 425.4 L498.9 426.3 L499.0 427.2 L499.1 428.0 L499.2 428.8 L499.3 429.5 L499.4 430.1 L499.5 431.0 L499.7 431.6 L499.9 432.3 L500.3 432.8 L500.6 432.2 L500.7 431.6 L500.9 430.8 L501.0 430.2 L501.1 429.4 L501.2 428.6 L501.3 427.8 L501.4 426.8 L501.5 425.8 L501.6 424.7 L501.7 423.6 L501.8 422.4 L501.8 421.7 L501.9 421.1 L501.9 420.4 L502.0 419.8 L502.0 419.1 L502.1 418.4 L502.1 417.7 L502.2 417.0 L502.2 416.2 L502.3 415.5 L502.3 414.7 L502.4 413.9 L502.4 413.2 L502.5 412.4 L502.5 411.6 L502.6 410.8 L502.6 409.9 L502.7 409.1 L502.7 408.3 L502.8 407.4 L502.8 406.6 L502.9 405.7 L502.9 404.8 L503.0 403.9 L503.0 403.1 L503.1 402.2 L503.1 401.3 L503.2 400.4 L503.2 399.5 L503.3 398.5 L503.3 397.6 L503.4 396.7 L503.4 395.8 L503.5 394.8 L503.5 393.9 L503.6 393.0 L503.6 392.0 L503.7 391.1 L503.7 390.1 L503.8 389.2 L503.8 388.2 L503.9 387.3 L503.9 386.3 L504.0 385.4 L504.0 384.4 L504.1 383.4 L504.1 382.5 L504.2 381.5 L504.2 380.6 L504.3 379.6 L504.3 378.7 L504.4 377.7 L504.4 376.8 L504.5 375.8 L504.5 374.9 L504.6 374.0 L504.6 373.0 L504.7 372.1 L504.7 371.2 L504.8 370.3 L504.8 369.3 L504.9 368.4 L504.9 367.5 L505.0 366.6 L505.0 365.7 L505.1 364.9 L505.1 364.0 L505.2 363.1 L505.2 362.2 L505.3 361.4 L505.3 360.5 L505.4 359.7 L505.4 358.9 L505.5 358.0 L505.5 357.2 L505.6 356.4 L505.6 355.6 L505.7 354.9 L505.7 354.1 L505.8 353.3 L505.8 352.6 L505.9 351.8 L505.9 351.1 L506.0 350.4 L506.0 349.7 L506.1 349.0 L506.1 348.4 L506.2 347.7 L506.2 347.1 L506.3 346.4 L506.3 345.8 L506.4 344.6 L506.5 343.5 L506.6 342.5 L506.7 341.5 L506.8 340.6 L506.9 339.8 L507.0 339.0 L507.1 338.3 L507.2 337.7 L507.4 337.0 L507.6 336.3 L508.1 336.0 L508.7 336.1 L509.3 336.2 L509.9 336.3 L510.5 336.5 L511.1 336.6 L511.7 336.7 L512.3 336.8 L512.9 336.5 L513.3 336.0 L513.5 335.4 L513.8 334.7 L514.0 334.1 L514.2 333.4 L514.4 332.7 L514.6 332.0 L514.8 331.3 L515.0 330.6 L515.2 329.9 L515.4 329.2 L515.6 328.6 L515.8 327.9 L516.1 327.3 L516.4 326.8 L517.0 326.9 L517.2 327.8 L517.3 328.5 L517.4 329.5 L517.5 330.6 L517.5 331.3 L517.6 331.9 L517.6 332.6 L517.7 333.4 L517.7 334.2 L517.8 335.0 L517.8 335.8 L517.9 336.7 L517.9 337.6 L518.0 338.5 L518.0 339.5 L518.1 340.5 L518.1 341.5 L518.2 342.6 L518.2 343.6 L518.3 344.7 L518.3 345.8 L518.4 347.0 L518.4 348.1 L518.5 349.3 L518.5 350.5 L518.6 351.7 L518.6 352.9 L518.7 354.2 L518.7 355.4 L518.8 356.7 L518.8 358.0 L518.9 359.3 L518.9 360.6 L519.0 361.9 L519.0 363.2 L519.1 364.6 L519.1 365.9 L519.2 367.2 L519.2 368.6 L519.3 369.9 L519.3 371.3 L519.4 372.6 L519.4 373.9 L519.5 375.3 L519.5 376.6 L519.6 377.9 L519.6 379.3 L519.7 380.6 L519.7 381.9 L519.8 383.2 L519.8 384.5 L519.9 385.8 L519.9 387.1 L520.0 388.3 L520.0 389.6 L520.1 390.8 L520.1 392.0 L520.2 393.2 L520.2 394.4 L520.3 395.5 L520.3 396.7 L520.4 397.8 L520.4 398.9 L520.5 399.9 L520.5 401.0 L520.6 402.0 L520.6 403.0 L520.7 404.0 L520.7 404.9 L520.8 405.8 L520.8 406.7 L520.9 407.5 L520.9 408.3 L521.0 409.1 L521.0 409.9 L521.1 410.6 L521.1 411.2 L521.2 411.9 L521.3 413.0 L521.4 414.0 L521.5 414.7 L521.6 415.4 L521.8 416.0 L521.9 414.7 L522.0 413.1 L522.0 411.0 L522.1 408.5 L522.1 405.6 L522.2 402.4 L522.2 398.9 L522.3 395.2 L522.3 391.4 L522.4 387.6 L522.4 383.8 L522.5 380.1 L522.5 376.5 L522.6 373.1 L522.6 370.0 L522.7 367.0 L522.7 363.9 L522.8 360.8 L522.8 357.7 L522.9 354.5 L522.9 351.4 L523.0 348.4 L523.0 345.5 L523.1 342.6 L523.1 340.0 L523.2 337.5 L523.2 335.1 L523.3 332.8 L523.3 330.6 L523.4 328.5 L523.4 326.4 L523.5 324.3 L523.5 322.3 L523.6 320.2 L523.6 318.2 L523.7 316.1 L523.7 314.0 L523.8 311.9 L523.8 309.7 L523.9 307.4 L523.9 305.0 L524.0 302.5 L524.0 300.1 L524.1 297.6 L524.1 295.0 L524.2 292.5 L524.2 289.9 L524.3 287.2 L524.3 284.5 L524.4 281.8 L524.4 279.1 L524.5 276.2 L524.5 273.4 L524.6 270.5 L524.6 267.5 L524.7 264.5 L524.7 261.4 L524.8 258.2 L524.8 255.0 L524.9 251.5 L524.9 247.6 L525.0 243.6 L525.0 239.4 L525.1 235.3 L525.1 231.4 L525.2 228.0 L525.2 225.0 L525.3 222.4 L525.3 219.9 L525.4 217.5 L525.4 215.2 L525.5 213.0 L525.5 211.0 L525.6 209.2 L525.6 207.6 L525.7 206.2 L525.7 205.0 L525.8 204.0 L525.8 203.0 L525.9 202.1 L525.9 201.2 L526.0 200.4 L526.0 199.6 L526.1 198.8 L526.1 198.1 L526.2 197.4 L526.2 196.8 L526.3 196.1 L526.4 195.0 L526.5 193.9 L526.6 193.0 L526.7 192.1 L526.8 191.4 L526.9 190.6 L527.0 190.0 L527.1 189.3 L527.2 188.7 L527.3 188.1 L527.4 187.2 L527.6 186.5 L527.7 185.8 L527.9 185.1 L528.1 184.4 L528.3 183.8 L528.5 183.2 L528.8 182.5 L529.1 182.0 L529.5 181.4 L529.9 180.9 L530.4 180.6 L531.0 180.9 L531.4 181.4 L531.7 182.0 L532.0 182.6 L532.3 183.2 L532.6 183.8 L532.8 184.3 L533.0 185.0 L533.1 185.6 L533.3 186.3 L533.4 187.0 L533.6 187.8 L533.7 188.6 L533.9 189.5 L534.0 190.1 L534.1 190.7 L534.2 191.3 L534.3 192.1 L534.4 192.9 L534.5 193.8 L534.6 194.8 L534.7 195.8 L534.8 196.9 L534.9 198.0 L535.0 199.2 L535.0 199.8 L535.1 200.5 L535.1 201.1 L535.2 201.7 L535.2 202.4 L535.3 203.0 L535.3 203.7 L535.4 204.3 L535.4 205.0 L535.5 205.7 L535.5 206.4 L535.6 207.2 L535.6 207.9 L535.7 208.7 L535.7 209.6 L535.8 210.4 L535.8 211.3 L535.9 212.1 L535.9 213.0 L536.0 213.9 L536.0 214.8 L536.1 215.8 L536.1 216.7 L536.2 217.6 L536.2 218.5 L536.3 219.4 L536.3 220.3 L536.4 221.1 L536.4 222.0 L536.5 222.9 L536.5 223.7 L536.6 224.6 L536.6 225.5 L536.7 226.4 L536.7 227.3 L536.8 228.2 L536.8 229.1 L536.9 230.0 L536.9 230.9 L537.0 231.8 L537.0 232.7 L537.1 233.6 L537.1 234.5 L537.2 235.5 L537.2 236.4 L537.3 237.3 L537.3 238.2 L537.4 239.1 L537.4 240.0 L537.5 240.9 L537.5 241.8 L537.6 242.7 L537.6 243.6 L537.7 244.4 L537.7 245.3 L537.8 246.1 L537.8 247.0 L537.9 247.8 L537.9 248.6 L538.0 249.4 L538.0 250.2 L538.1 251.0 L538.1 251.8 L538.2 252.5 L538.2 253.2 L538.3 254.0 L538.3 254.7 L538.4 255.3 L538.4 256.0 L538.5 256.7 L538.5 257.3 L538.6 258.0 L538.6 258.7 L538.7 259.3 L538.7 260.0 L538.8 260.7 L538.8 261.4 L538.9 262.1 L538.9 262.8 L539.0 263.5 L539.0 264.2 L539.1 264.9 L539.1 265.6 L539.2 266.3 L539.2 267.0 L539.3 267.7 L539.3 268.4 L539.4 269.1 L539.4 269.8 L539.5 270.4 L539.5 271.1 L539.6 271.8 L539.6 272.4 L539.7 273.1 L539.7 273.7 L539.8 274.4 L539.8 275.0 L539.9 275.6 L539.9 276.2 L540.0 277.4 L540.1 278.5 L540.2 279.6 L540.3 280.6 L540.4 281.5 L540.5 282.3 L540.6 283.1 L540.7 283.8 L540.8 284.4 L541.0 285.1 L541.2 285.7 L541.6 285.0 L541.7 284.2 L541.8 283.3 L541.9 282.1 L541.9 281.4 L542.0 280.7 L542.0 280.0 L542.1 279.2 L542.1 278.3 L542.2 277.4 L542.2 276.5 L542.3 275.6 L542.3 274.6 L542.4 273.5 L542.4 272.5 L542.5 271.4 L542.5 270.3 L542.6 269.1 L542.6 267.9 L542.7 266.7 L542.7 265.5 L542.8 264.3 L542.8 263.0 L542.9 261.8 L542.9 260.5 L543.0 259.2 L543.0 257.9 L543.1 256.5 L543.1 255.2 L543.2 253.9 L543.2 252.5 L543.3 251.2 L543.3 249.8 L543.4 248.5 L543.4 247.1 L543.5 245.8 L543.5 244.4 L543.6 243.1 L543.6 241.8 L543.7 240.4 L543.7 239.1 L543.8 237.9 L543.8 236.6 L543.9 235.3 L543.9 234.1 L544.0 232.9 L544.0 231.7 L544.1 230.5 L544.1 229.3 L544.2 228.2 L544.2 227.1 L544.3 226.0 L544.3 225.0 L544.4 224.0 L544.4 223.0 L544.5 222.0 L544.5 220.9 L544.6 219.9 L544.6 218.9 L544.7 217.9 L544.7 216.9 L544.8 215.9 L544.8 214.9 L544.9 213.9 L544.9 212.9 L545.0 211.9 L545.0 210.9 L545.1 209.9 L545.1 208.9 L545.2 207.9 L545.2 206.9 L545.3 205.9 L545.3 204.9 L545.4 203.9 L545.4 202.9 L545.5 201.9 L545.5 200.9 L545.6 199.9 L545.6 198.9 L545.7 197.8 L545.7 196.8 L545.8 195.8 L545.8 194.8 L545.9 193.7 L545.9 192.7 L546.0 191.7 L546.0 190.6 L546.1 189.6 L546.1 188.5 L546.2 187.5 L546.2 186.4 L546.3 185.4 L546.3 184.3 L546.4 183.2 L546.4 182.2 L546.5 181.1 L546.5 180.0 L546.6 178.9 L546.6 177.8 L546.7 176.6 L546.7 175.5 L546.8 174.3 L546.8 173.0 L546.9 171.8 L546.9 170.6 L547.0 169.3 L547.0 168.0 L547.1 166.7 L547.1 165.4 L547.2 164.1 L547.2 162.8 L547.3 161.4 L547.3 160.1 L547.4 158.7 L547.4 157.4 L547.5 156.0 L547.5 154.6 L547.6 153.2 L547.6 151.9 L547.7 150.5 L547.7 149.1 L547.8 147.7 L547.8 146.3 L547.9 145.0 L547.9 143.6 L548.0 142.2 L548.0 140.9 L548.1 139.5 L548.1 138.2 L548.2 136.8 L548.2 135.5 L548.3 134.2 L548.3 132.9 L548.4 131.6 L548.4 130.3 L548.5 129.1 L548.5 127.8 L548.6 126.6 L548.6 125.4 L548.7 124.2 L548.7 123.1 L548.8 121.9 L548.8 120.8 L548.9 119.7 L548.9 118.7 L549.0 117.6 L549.0 116.6 L549.1 115.6 L549.1 114.7 L549.2 113.7 L549.2 112.8 L549.3 112.0 L549.3 111.2 L549.4 110.4 L549.4 109.6 L549.5 108.9 L549.5 108.2 L549.6 107.6 L549.7 106.4 L549.8 105.3 L549.9 104.2 L550.0 103.1 L550.1 102.1 L550.2 101.0 L550.3 100.0 L550.4 99.0 L550.5 98.1 L550.6 97.1 L550.7 96.2 L550.8 95.3 L550.9 94.4 L551.0 93.6 L551.1 92.8 L551.2 92.0 L551.3 91.2 L551.4 90.4 L551.5 89.7 L551.6 88.9 L551.7 88.2 L551.8 87.6 L551.9 86.9 L552.0 86.3 L552.1 85.7 L552.2 85.1 L552.3 84.2 L552.5 83.4 L552.6 82.6 L552.8 81.9 L552.9 81.2 L553.1 80.6 L553.2 80.0 L553.4 79.2 L553.6 78.5 L553.8 77.8 L554.0 77.1 L554.2 76.5 L554.4 75.9 L554.6 75.3 L554.8 74.7 L555.1 74.0 L555.3 73.3 L555.6 72.7 L555.8 72.1 L556.1 71.5 L556.4 70.9 L556.7 70.3 L557.1 69.8 L557.4 69.3 L557.8 68.8 L558.2 68.3 L558.6 67.8 L559.1 67.3 L559.5 66.9 L560.0 66.4 L560.5 66.0 L561.0 65.6 L561.5 65.3 L562.0 65.0 L562.6 64.7 L563.2 64.5 L563.8 64.4 L564.4 64.3 L565.0 64.1 L565.6 64.0 L566.2 63.9 L566.8 63.8 L567.4 63.7 L568.0 63.6 L568.6 63.6 L569.2 63.5 L569.8 63.4 L570.4 63.4 L571.0 63.3 L571.6 63.3 L572.2 63.3 L572.8 63.3 L573.4 63.3 L574.0 63.2 L574.6 63.2 L575.2 63.2 L575.8 63.2 L576.4 63.2 L577.0 63.1 L577.6 63.1 L578.2 63.1 L578.8 63.1 L579.4 63.1 L580.0 63.1 L580.6 63.0 L581.2 63.0 L581.8 63.0 L582.4 63.0 L583.0 63.0 L583.6 63.0 L584.2 63.0 L584.8 62.9 L585.4 62.9 L586.0 62.9 L586.6 62.9 L587.2 62.9 L587.8 62.9 L588.4 62.9 L589.0 62.9 L589.6 62.9 L590.2 62.9 L590.8 62.9 L591.4 62.8 L592.0 62.8 L592.6 62.8 L593.2 62.8 L593.8 62.8 L594.4 62.8 L595.0 62.8 L595.6 62.8 L596.2 62.8 L596.8 62.8 L597.4 62.8 L598.0 62.8 L598.6 62.8 L599.2 62.8 L599.8 62.8 L600.4 62.8 L601.0 62.8 L601.6 62.8 L602.2 62.8 L602.8 62.8 L603.4 62.8 L604.0 62.8 L604.6 62.8 L605.2 62.8 L605.8 62.8 L606.4 62.8 L607.0 62.8 L607.6 62.8 L608.2 62.8 L608.8 62.8 L609.4 62.8 L610.0 62.8 L610.6 62.8 L611.2 62.8 L611.8 62.8 L612.4 62.8 L613.0 62.8 L613.6 62.8 L614.2 62.8 L614.8 62.8 L615.4 62.8 L616.0 62.8 L616.6 62.8 L617.2 62.8 L617.8 62.8 L618.4 62.8 L619.0 62.8 L619.6 62.8 L620.2 62.8 L620.8 62.8 L621.4 62.8 L622.0 62.8 L622.6 62.8 L623.2 62.8 L623.8 62.8 L624.4 62.8 L625.0 62.8 L625.6 62.8 L626.2 62.8 L626.8 62.8 L627.4 62.8 L628.0 62.8 L628.6 62.8 L629.2 62.8 L629.8 62.9 L630.4 62.9 L631.0 62.9 L631.6 62.9 L632.2 62.9 L632.8 62.9 L633.4 62.9 L634.0 62.9 L634.6 62.9 L635.2 62.9 L635.8 62.9 L636.4 62.9 L637.0 62.9 L637.6 62.9 L638.2 62.9 L638.8 62.9 L639.4 62.9 L640.0 62.9 L640.6 62.9 L641.2 62.9 L641.8 62.9 L642.4 62.9 L643.0 63.0 L643.6 63.0 L644.2 63.0 L644.8 63.0 L645.4 63.1 L646.0 63.1 L646.6 63.1 L647.2 63.2 L647.8 63.2 L648.4 63.3 L649.0 63.3 L649.6 63.4 L650.2 63.4 L650.8 63.5 L651.4 63.5 L652.0 63.6 L652.6 63.7 L653.2 63.8 L653.8 63.9 L654.4 64.1 L655.0 64.3 L655.6 64.5 L656.2 64.7 L656.8 65.0 L657.4 65.2 L658.0 65.5 L658.5 65.7 L659.1 66.0 L659.6 66.2 L660.2 66.5 L660.7 66.7 L661.3 67.0 L661.8 67.3 L662.4 67.6 L662.9 67.9 L663.5 68.2 L664.0 68.6 L664.5 68.9 L665.0 69.3 L665.5 69.6 L666.0 70.0 L666.5 70.4 L667.0 70.8 L667.5 71.2 L668.0 71.6 L668.4 72.0 L668.9 72.5 L669.3 72.9 L669.8 73.4 L670.2 73.9 L670.6 74.4 L671.0 74.9 L671.4 75.4 L671.7 75.9 L672.1 76.5 L672.4 77.0 L672.8 77.6 L673.1 78.1 L673.4 78.7 L673.7 79.3 L674.0 79.9 L674.2 80.5 L674.5 81.1 L674.7 81.7 L675.0 82.3 L675.2 83.0 L675.5 83.7 L675.7 84.3 L675.9 84.9 L676.1 85.5 L676.3 86.1 L676.5 86.8 L676.7 87.4 L676.9 88.1 L677.1 88.8 L677.3 89.6 L677.5 90.3 L677.7 91.1 L677.8 91.7 L678.0 92.3 L678.1 92.9 L678.3 93.5 L678.4 94.1 L678.6 94.8 L678.7 95.4 L678.9 96.1 L679.0 96.8 L679.2 97.5 L679.3 98.2 L679.5 98.9 L679.6 99.6 L679.8 100.4 L679.9 101.1 L680.1 101.9 L680.2 102.7 L680.4 103.4 L680.5 104.2 L680.7 105.1 L680.8 105.9 L681.0 106.7 L681.1 107.6 L681.2 108.2 L681.3 108.9 L681.4 109.5 L681.5 110.3 L681.6 111.0 L681.7 111.8 L681.8 112.6 L681.9 113.5 L682.0 114.3 L682.1 115.2 L682.2 116.2 L682.3 117.1 L682.4 118.1 L682.5 119.1 L682.6 120.1 L682.7 121.2 L682.8 122.3 L682.9 123.3 L683.0 124.5 L683.1 125.6 L683.2 126.7 L683.3 127.9 L683.4 129.1 L683.5 130.3 L683.6 130.9 L683.6 131.5 L683.7 132.1 L683.7 132.7 L683.8 133.3 L683.8 133.9 L683.9 134.5 L683.9 135.2 L684.0 135.8 L684.0 136.4 L684.1 137.0 L684.1 137.7 L684.2 138.3 L684.2 138.9 L684.3 139.6 L684.3 140.2 L684.4 140.9 L684.4 141.5 L684.5 142.2 L684.5 142.8 L684.6 143.4 L684.6 144.1 L684.7 144.7 L684.7 145.4 L684.8 146.0 L684.8 146.7 L684.9 147.3 L684.9 148.0 L685.0 148.6 L685.0 149.3 L685.1 149.9 L685.1 150.6 L685.2 151.2 L685.2 151.9 L685.3 152.6 L685.3 153.2 L685.4 153.9 L685.4 154.6 L685.5 155.3 L685.5 156.0 L685.6 156.7 L685.6 157.4 L685.7 158.2 L685.7 158.9 L685.8 159.7 L685.8 160.4 L685.9 161.2 L685.9 162.0 L686.0 162.8 L686.0 163.6 L686.1 164.3 L686.1 165.1 L686.2 166.0 L686.2 166.8 L686.3 167.6 L686.3 168.4 L686.4 169.2 L686.4 170.0 L686.5 170.9 L686.5 171.7 L686.6 172.5 L686.6 173.4 L686.7 174.2 L686.7 175.1 L686.8 175.9 L686.8 176.7 L686.9 177.6 L686.9 178.4 L687.0 179.3 L687.0 180.1 L687.1 180.9 L687.1 181.8 L687.2 182.6 L687.2 183.4 L687.3 184.3 L687.3 185.1 L687.4 185.9 L687.4 186.8 L687.5 187.6 L687.5 188.4 L687.6 189.2 L687.6 190.0 L687.7 190.8 L687.7 191.6 L687.8 192.4 L687.8 193.2 L687.9 194.0 L687.9 194.8 L688.0 195.6 L688.0 196.5 L688.1 197.3 L688.1 198.1 L688.2 198.9 L688.2 199.7 L688.3 200.5 L688.3 201.3 L688.4 202.2 L688.4 203.0 L688.5 203.8 L688.5 204.6 L688.6 205.4 L688.6 206.3 L688.7 207.1 L688.7 207.9 L688.8 208.7 L688.8 209.6 L688.9 210.4 L688.9 211.2 L689.0 212.0 L689.0 212.8 L689.1 213.7 L689.1 214.5 L689.2 215.3 L689.2 216.1 L689.3 217.0 L689.3 217.8 L689.4 218.6 L689.4 219.4 L689.5 220.3 L689.5 221.1 L689.6 221.9 L689.6 222.7 L689.7 223.5 L689.7 224.4 L689.8 225.2 L689.8 226.0 L689.9 226.8 L689.9 227.6 L690.0 228.4 L690.0 229.3 L690.1 230.1 L690.1 230.9 L690.2 231.7 L690.2 232.5 L690.3 233.3 L690.3 234.1 L690.4 234.9 L690.4 235.8 L690.5 236.6 L690.5 237.4 L690.6 238.2 L690.6 239.0 L690.7 239.8 L690.7 240.6 L690.8 241.4 L690.8 242.2 L690.9 242.9 L690.9 243.7 L691.0 244.5 L691.0 245.3 L691.1 246.1 L691.1 246.9 L691.2 247.7 L691.2 248.4 L691.3 249.2 L691.3 250.0 L691.4 250.8 L691.4 251.6 L691.5 252.4 L691.5 253.3 L691.6 254.2 L691.6 255.1 L691.7 256.0 L691.7 256.9 L691.8 257.9 L691.8 258.8 L691.9 259.8 L691.9 260.8 L692.0 261.8 L692.0 262.8 L692.1 263.8 L692.1 264.8 L692.2 265.7 L692.2 266.7 L692.3 267.7 L692.3 268.7 L692.4 269.7 L692.4 270.6 L692.5 271.6 L692.5 272.5 L692.6 273.5 L692.6 274.4 L692.7 275.2 L692.7 276.1 L692.8 277.0 L692.8 277.8 L692.9 278.6 L692.9 279.4 L693.0 280.1 L693.0 280.8 L693.1 281.5 L693.1 282.1 L693.2 282.7 L693.3 283.8 L693.4 284.7 L693.5 285.5 L693.6 286.2 L694.1 285.8 L694.3 285.1 L694.4 284.1 L694.5 283.5 L694.6 282.7 L694.7 281.9 L694.8 281.0 L694.9 280.1 L695.0 279.2 L695.1 278.2 L695.2 277.2 L695.3 276.2 L695.4 275.3 L695.5 274.3 L695.6 273.4 L695.7 272.5 L695.8 271.6 L695.9 270.8 L696.0 270.0 L696.1 269.3 L696.2 268.5 L696.3 267.7 L696.4 267.0 L696.5 266.2 L696.6 265.4 L696.7 264.7 L696.8 263.9 L696.9 263.1 L697.0 262.3 L697.1 261.5 L697.2 260.7 L697.3 260.0 L697.4 259.2 L697.5 258.4 L697.6 257.7 L697.7 256.9 L697.8 256.2 L697.9 255.4 L698.0 254.7 L698.1 254.0 L698.2 253.3 L698.3 252.6 L698.4 251.9 L698.5 251.3 L698.6 250.6 L698.7 250.0 L698.8 249.4 L698.9 248.8 L699.1 247.9 L699.2 247.1 L699.4 246.2 L699.5 245.4 L699.7 244.6 L699.8 243.8 L700.0 243.0 L700.1 242.2 L700.3 241.4 L700.4 240.7 L700.6 240.0 L700.7 239.2 L700.9 238.5 L701.0 237.8 L701.2 237.0 L701.3 236.3 L701.5 235.6 L701.6 234.9 L701.8 234.2 L701.9 233.4 L702.1 232.7 L702.2 232.0 L702.4 231.2 L702.5 230.5 L702.7 229.7 L702.8 229.0 L703.0 228.2 L703.1 227.4 L703.3 226.5 L703.4 225.7 L703.6 224.8 L703.7 224.0 L703.9 223.1 L704.0 222.3 L704.2 221.4 L704.3 220.5 L704.5 219.7 L704.6 218.9 L704.8 218.1 L704.9 217.3 L705.1 216.5 L705.2 215.8 L705.4 215.0 L705.5 214.3 L705.7 213.7 L705.8 213.1 L706.0 212.3 L706.2 211.6 L706.4 211.1 L706.7 210.4 L706.9 209.8 L707.2 209.2 L707.4 208.6 L707.7 208.0 L707.9 207.5 L708.2 206.9 L708.5 206.3 L708.8 205.7 L709.2 205.2 L709.6 204.7 L710.1 204.3 L710.7 204.1 L711.3 204.3 L711.7 204.7 L712.1 205.2 L712.5 205.8 L712.8 206.4 L713.1 206.9 L713.4 207.6 L713.7 208.2 L714.0 208.8 L714.2 209.3 L714.5 209.9 L714.7 210.5 L715.0 211.1 L715.2 211.7 L715.5 212.3 L715.7 212.9 L715.9 213.5 L716.1 214.2 L716.3 214.8 L716.5 215.6 L716.7 216.3 L716.9 217.1 L717.0 217.7 L717.2 218.3 L717.3 218.9 L717.5 219.6 L717.6 220.3 L717.8 221.0 L717.9 221.7 L718.1 222.4 L718.2 223.1 L718.4 223.8 L718.5 224.6 L718.7 225.4 L718.8 226.2 L719.0 227.0 L719.1 227.8 L719.3 228.6 L719.4 229.4 L719.6 230.3 L719.7 231.1 L719.9 232.0 L720.0 232.6 L720.1 233.3 L720.2 233.9 L720.3 234.6 L720.4 235.2 L720.5 235.9 L720.6 236.6 L720.7 237.4 L720.8 238.1 L720.9 238.9 L721.0 239.7 L721.1 240.5 L721.2 241.4 L721.3 242.3 L721.4 243.2 L721.5 244.1 L721.6 245.1 L721.7 246.1 L721.8 247.2 L721.9 248.3 L722.0 249.4 L722.1 250.6 L722.1 251.2 L722.2 251.9 L722.2 252.7 L722.3 253.4 L722.3 254.2 L722.4 255.0 L722.4 255.9 L722.5 256.7 L722.5 257.6 L722.6 258.6 L722.6 259.5 L722.7 260.5 L722.7 261.5 L722.8 262.5 L722.8 263.5 L722.9 264.6 L722.9 265.6 L723.0 266.7 L723.0 267.8 L723.1 268.9 L723.1 270.0 L723.2 271.1 L723.2 272.3 L723.3 273.5 L723.3 274.8 L723.4 276.1 L723.4 277.4 L723.5 278.7 L723.5 280.1 L723.6 281.5 L723.6 282.9 L723.7 284.4 L723.7 285.9 L723.8 287.4 L723.8 288.9 L723.9 290.4 L723.9 291.9 L724.0 293.5 L724.0 295.0 L724.1 296.6 L724.1 298.1 L724.2 299.7 L724.2 301.3 L724.3 302.9 L724.3 304.5 L724.4 306.2 L724.4 307.8 L724.5 309.5 L724.5 311.2 L724.6 313.0 L724.6 314.7 L724.7 316.5 L724.7 318.3 L724.8 320.2 L724.8 322.1 L724.9 324.0 L724.9 326.0 L725.0 328.0 L725.0 330.0 L725.1 332.1 L725.1 334.2 L725.2 336.4 L725.2 338.7 L725.3 341.0 L725.3 343.3 L725.4 345.7 L725.4 348.2 L725.5 350.7 L725.5 353.2 L725.6 355.7 L725.6 358.3 L725.7 360.9 L725.7 363.6 L725.8 366.3 L725.8 369.0 L725.9 371.7 L725.9 374.5 L726.0 377.2 L726.0 380.0 L726.1 382.9 L726.1 385.9 L726.2 389.0 L726.2 392.2 L726.3 395.5 L726.3 398.9 L726.4 402.2 L726.4 405.6 L726.5 409.0 L726.5 412.3 L726.6 415.5 L726.6 418.7 L726.7 421.8 L726.7 424.7 L726.8 427.4 L726.8 430.0 L726.9 432.4 L726.9 434.8 L727.0 437.0 L727.0 439.2 L727.1 441.3 L727.1 443.3 L727.2 445.2 L727.2 447.0 L727.2 447.0" fill="none" stroke="#000" stroke-width="6.9" stroke-linejoin="round" stroke-linecap="round"/>
<rect x="129.4" y="62.5" width="597.5" height="449.7" fill="none" stroke="#000" stroke-width="3.1"/>
<g fill="#000">
<ellipse cx="227.7" cy="61.6" rx="3.6" ry="3.8"/>
<ellipse cx="227.7" cy="79.3" rx="3.4" ry="4.4"/>
<ellipse cx="227.7" cy="96.6" rx="3.4" ry="4.4"/>
<ellipse cx="227.7" cy="113.7" rx="3.4" ry="4.4"/>
<ellipse cx="224.1" cy="126.6" rx="4.2" ry="3.2" transform="rotate(-6 224.1 126.6)"/>
<ellipse cx="623.3" cy="61.4" rx="3.5" ry="3.8"/>
<ellipse cx="623.3" cy="78.8" rx="3.2" ry="4.4"/>
<ellipse cx="623.3" cy="95.75" rx="3.2" ry="4.4"/>
<ellipse cx="623.3" cy="113" rx="3.2" ry="4.4"/>
</g>
<g id="txt" style="opacity:0.999">
<rect x="272" y="108.5" width="225" height="62" fill="#000"/>
<rect x="265.6" y="101.4" width="222.7" height="61.7" fill="#fff" stroke="#000" stroke-width="2.2"/>
<line x1="278.9" y1="119" x2="328" y2="119" stroke="#000" stroke-width="6.6" stroke-linecap="round"/>
<text class="b" x="474.9" y="126" font-size="21" text-anchor="end">DLHD VIS-NIR</text>
<text class="b" x="474.9" y="153" font-size="20.8" text-anchor="end">532 nm + 1064 nm</text>
<text x="160" y="110.6" font-size="18"><tspan class="ser">λ</tspan><tspan class="b" font-size="10.5" dy="7">VIS</tspan></text>
<text x="171" y="134.8" font-size="18" text-anchor="middle">(532 nm)</text>
<text x="604.0" y="160.0" font-size="19.5"><tspan class="ser">λ</tspan><tspan class="b" font-size="11" dy="7.2">NIR</tspan></text>
<text x="622.2" y="185.6" font-size="20" text-anchor="middle">(1064 nm)</text>
<text class="b" x="428.2" y="50" font-size="25" text-anchor="middle">DLHD VIS-NIR 532 nm + 1064 nm (AOI = 45°, av-pol)</text>
<text class="b" x="423.9" y="574" font-size="25" text-anchor="middle">Wavelength / nm</text>
<text class="b" transform="translate(65.3 285.4) rotate(-90)" font-size="25" text-anchor="middle">Reflection / %</text>
<text x="128.6" y="542" font-size="25.4" text-anchor="middle">400</text>
<text x="203.3" y="542" font-size="25.4" text-anchor="middle">500</text>
<text x="278.0" y="542" font-size="25.4" text-anchor="middle">600</text>
<text x="352.7" y="542" font-size="25.4" text-anchor="middle">700</text>
<text x="427.3" y="542" font-size="25.4" text-anchor="middle">800</text>
<text x="502.0" y="542" font-size="25.4" text-anchor="middle">900</text>
<text x="576.7" y="542" font-size="25.4" text-anchor="middle">1000</text>
<text x="651.4" y="542" font-size="25.4" text-anchor="middle">1100</text>
<text x="726.1" y="542" font-size="25.4" text-anchor="middle">1200</text>
<text x="118.6" y="518.9" font-size="25.4" text-anchor="end">0</text>
<text x="118.6" y="473.9" font-size="25.4" text-anchor="end">10</text>
<text x="118.6" y="429.0" font-size="25.4" text-anchor="end">20</text>
<text x="118.6" y="384.0" font-size="25.4" text-anchor="end">30</text>
<text x="118.6" y="339.0" font-size="25.4" text-anchor="end">40</text>
<text x="118.6" y="294.1" font-size="25.4" text-anchor="end">50</text>
<text x="118.6" y="249.1" font-size="25.4" text-anchor="end">60</text>
<text x="118.6" y="204.1" font-size="25.4" text-anchor="end">70</text>
<text x="118.6" y="159.1" font-size="25.4" text-anchor="end">80</text>
<text x="118.6" y="114.2" font-size="25.4" text-anchor="end">90</text>
<text x="118.6" y="69.2" font-size="25.4" text-anchor="end">100</text>
</g>
</svg></body></html>
